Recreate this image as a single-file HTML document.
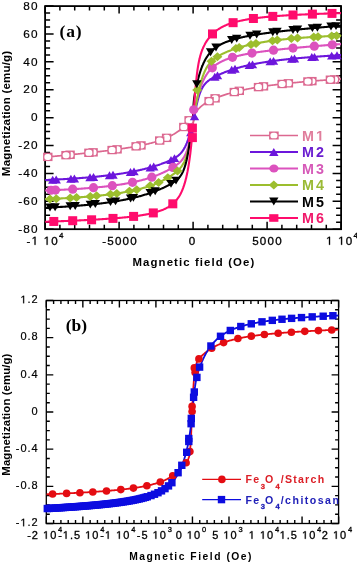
<!DOCTYPE html><html><head><meta charset="utf-8"><style>html,body{margin:0;padding:0;background:#fff;}svg{display:block;will-change:transform;}text{font-family:"Liberation Sans",sans-serif;}</style></head><body>
<svg width="357" height="563" viewBox="0 0 357 563">
<rect width="357" height="563" fill="#fff"/>
<rect x="45.1" y="6.1" width="296" height="223.1" fill="none" stroke="#000" stroke-width="1.8"/>
<path d="M45.1 229.2h8.5M341.1 229.2h-8.5M45.1 222.23h5M341.1 222.23h-5M45.1 215.26h5M341.1 215.26h-5M45.1 208.28h5M341.1 208.28h-5M45.1 201.31h8.5M341.1 201.31h-8.5M45.1 194.34h5M341.1 194.34h-5M45.1 187.37h5M341.1 187.37h-5M45.1 180.4h5M341.1 180.4h-5M45.1 173.42h8.5M341.1 173.42h-8.5M45.1 166.45h5M341.1 166.45h-5M45.1 159.48h5M341.1 159.48h-5M45.1 152.51h5M341.1 152.51h-5M45.1 145.54h8.5M341.1 145.54h-8.5M45.1 138.57h5M341.1 138.57h-5M45.1 131.59h5M341.1 131.59h-5M45.1 124.62h5M341.1 124.62h-5M45.1 117.65h8.5M341.1 117.65h-8.5M45.1 110.68h5M341.1 110.68h-5M45.1 103.71h5M341.1 103.71h-5M45.1 96.73h5M341.1 96.73h-5M45.1 89.76h8.5M341.1 89.76h-8.5M45.1 82.79h5M341.1 82.79h-5M45.1 75.82h5M341.1 75.82h-5M45.1 68.85h5M341.1 68.85h-5M45.1 61.87h8.5M341.1 61.87h-8.5M45.1 54.9h5M341.1 54.9h-5M45.1 47.93h5M341.1 47.93h-5M45.1 40.96h5M341.1 40.96h-5M45.1 33.99h8.5M341.1 33.99h-8.5M45.1 27.02h5M341.1 27.02h-5M45.1 20.04h5M341.1 20.04h-5M45.1 13.07h5M341.1 13.07h-5M45.1 6.1h8.5M341.1 6.1h-8.5M45.1 229.2v-7.5M45.1 6.1v7.5M59.9 229.2v-4.5M59.9 6.1v4.5M74.7 229.2v-4.5M74.7 6.1v4.5M89.5 229.2v-4.5M89.5 6.1v4.5M104.3 229.2v-4.5M104.3 6.1v4.5M119.1 229.2v-7.5M119.1 6.1v7.5M133.9 229.2v-4.5M133.9 6.1v4.5M148.7 229.2v-4.5M148.7 6.1v4.5M163.5 229.2v-4.5M163.5 6.1v4.5M178.3 229.2v-4.5M178.3 6.1v4.5M193.1 229.2v-7.5M193.1 6.1v7.5M207.9 229.2v-4.5M207.9 6.1v4.5M222.7 229.2v-4.5M222.7 6.1v4.5M237.5 229.2v-4.5M237.5 6.1v4.5M252.3 229.2v-4.5M252.3 6.1v4.5M267.1 229.2v-7.5M267.1 6.1v7.5M281.9 229.2v-4.5M281.9 6.1v4.5M296.7 229.2v-4.5M296.7 6.1v4.5M311.5 229.2v-4.5M311.5 6.1v4.5M326.3 229.2v-4.5M326.3 6.1v4.5M341.1 229.2v-7.5M341.1 6.1v7.5" stroke="#000" stroke-width="1.5" fill="none"/>
<defs><clipPath id="ca"><rect x="45.1" y="6.1" width="296.0" height="223.1"/></clipPath><clipPath id="cb"><rect x="46.3" y="300.5" width="292.3" height="223"/></clipPath></defs>
<g clip-path="url(#ca)" fill="none" stroke-width="2.1" stroke-linejoin="round">
<polyline points="45.1,157.14 45.84,157.07 46.58,157 47.33,156.93 48.07,156.86 48.81,156.8 49.55,156.73 50.29,156.66 51.03,156.59 51.78,156.52 52.52,156.45 53.26,156.38 54,156.31 54.74,156.24 55.49,156.17 56.23,156.1 56.97,156.03 57.71,155.96 58.45,155.89 59.2,155.82 59.94,155.75 60.68,155.68 61.42,155.6 62.16,155.53 62.9,155.46 63.65,155.39 64.39,155.32 65.13,155.24 65.87,155.17 66.61,155.1 67.36,155.03 68.1,154.95 68.84,154.88 69.58,154.81 70.32,154.73 71.06,154.66 71.81,154.58 72.55,154.51 73.29,154.43 74.03,154.36 74.77,154.28 75.52,154.21 76.26,154.13 77,154.06 77.74,153.98 78.48,153.9 79.23,153.83 79.97,153.75 80.71,153.67 81.45,153.6 82.19,153.52 82.93,153.44 83.68,153.36 84.42,153.28 85.16,153.2 85.9,153.12 86.64,153.04 87.39,152.96 88.13,152.88 88.87,152.8 89.61,152.72 90.35,152.64 91.09,152.56 91.84,152.47 92.58,152.39 93.32,152.31 94.06,152.22 94.8,152.14 95.55,152.06 96.29,151.97 97.03,151.89 97.77,151.8 98.51,151.71 99.26,151.63 100,151.54 100.74,151.45 101.48,151.36 102.22,151.27 102.96,151.19 103.71,151.1 104.45,151.01 105.19,150.91 105.93,150.82 106.67,150.73 107.42,150.64 108.16,150.54 108.9,150.45 109.64,150.36 110.38,150.26 111.13,150.16 111.87,150.07 112.61,149.97 113.35,149.87 114.09,149.77 114.83,149.67 115.58,149.57 116.32,149.47 117.06,149.37 117.8,149.26 118.54,149.16 119.29,149.06 120.03,148.95 120.77,148.84 121.51,148.73 122.25,148.63 122.99,148.52 123.74,148.4 124.48,148.29 125.22,148.18 125.96,148.06 126.7,147.95 127.45,147.83 128.19,147.71 128.93,147.59 129.67,147.47 130.41,147.35 131.16,147.22 131.9,147.1 132.64,146.97 133.38,146.84 134.12,146.71 134.86,146.58 135.61,146.44 136.35,146.31 137.09,146.17 137.83,146.03 138.57,145.89 139.32,145.74 140.06,145.6 140.8,145.45 141.54,145.3 142.28,145.14 143.02,144.99 143.77,144.83 144.51,144.67 145.25,144.5 145.99,144.33 146.73,144.16 147.48,143.99 148.22,143.81 148.96,143.63 149.7,143.45 150.44,143.26 151.19,143.07 151.93,142.87 152.67,142.67 153.41,142.47 154.15,142.26 154.89,142.05 155.64,141.83 156.38,141.6 157.12,141.38 157.86,141.14 158.6,140.9 159.35,140.65 160.09,140.4 160.83,140.14 161.57,139.87 162.31,139.6 163.05,139.32 163.8,139.03 164.54,138.73 165.28,138.43 166.02,138.11 166.76,137.79 167.51,137.45 168.25,137.11 168.99,136.75 169.73,136.39 170.47,136.01 171.22,135.62 171.96,135.22 172.7,134.81 173.44,134.38 174.18,133.94 174.92,133.48 175.67,133.02 176.41,132.53 177.15,132.03 177.89,131.52 178.63,130.99 179.38,130.44 179.76,130.15 179.82,130.1 179.89,130.06 179.95,130.01 180.01,129.96 180.07,129.92 180.12,129.88 180.13,129.87 180.19,129.83 180.25,129.78 180.31,129.73 180.37,129.69 180.43,129.64 180.49,129.59 180.55,129.55 180.61,129.5 180.67,129.45 180.73,129.4 180.79,129.36 180.85,129.31 180.86,129.3 180.91,129.26 180.97,129.21 181.03,129.17 181.09,129.12 181.15,129.07 181.21,129.02 181.27,128.97 181.33,128.93 181.39,128.88 181.45,128.83 181.51,128.78 181.57,128.73 181.6,128.71 181.63,128.68 181.69,128.63 181.75,128.58 181.81,128.54 181.87,128.49 181.93,128.44 181.99,128.39 182.05,128.34 182.11,128.29 182.17,128.24 182.23,128.19 182.29,128.14 182.34,128.1 182.35,128.09 182.41,128.04 182.47,127.99 182.53,127.94 182.59,127.89 182.65,127.84 182.71,127.79 182.77,127.74 182.83,127.68 182.89,127.63 182.95,127.58 183.01,127.53 183.07,127.48 183.08,127.47 183.13,127.43 183.19,127.38 183.25,127.33 183.31,127.27 183.37,127.22 183.43,127.17 183.49,127.12 183.55,127.07 183.61,127.01 183.67,126.96 183.73,126.91 183.79,126.86 183.83,126.83 183.86,126.8 183.92,126.75 183.98,126.7 184.04,126.65 184.1,126.59 184.16,126.54 184.22,126.49 184.28,126.43 184.34,126.38 184.4,126.33 184.46,126.27 184.52,126.22 184.57,126.17 184.58,126.17 184.64,126.11 184.7,126.06 184.76,126.01 184.82,125.95 184.88,125.9 184.94,125.84 185,125.79 185.06,125.73 185.12,125.68 185.18,125.63 185.24,125.57 185.3,125.52 185.31,125.51 185.36,125.46 185.42,125.41 185.48,125.35 185.54,125.3 185.6,125.24 185.66,125.19 185.72,125.13 185.78,125.08 185.84,125.02 185.9,124.97 185.96,124.91 186.02,124.85 186.05,124.82 186.08,124.8 186.14,124.74 186.2,124.69 186.26,124.63 186.32,124.57 186.38,124.52 186.44,124.46 186.5,124.41 186.56,124.35 186.62,124.29 186.68,124.24 186.74,124.18 186.79,124.13 186.8,124.12 186.86,124.07 186.92,124.01 186.98,123.95 187.04,123.9 187.1,123.84 187.16,123.78 187.22,123.73 187.28,123.67 187.34,123.61 187.4,123.55 187.46,123.5 187.52,123.44 187.54,123.43 187.58,123.38 187.64,123.32 187.7,123.27 187.76,123.21 187.82,123.15 187.89,123.09 187.95,123.03 188.01,122.98 188.07,122.92 188.13,122.86 188.19,122.8 188.25,122.74 188.28,122.71 188.31,122.69 188.37,122.63 188.43,122.57 188.49,122.51 188.55,122.45 188.61,122.39 188.67,122.34 188.73,122.28 188.79,122.22 188.85,122.16 188.91,122.1 188.97,122.04 189.02,121.99 189.03,121.98 189.09,121.93 189.15,121.87 189.21,121.81 189.27,121.75 189.33,121.69 189.39,121.63 189.45,121.57 189.51,121.51 189.57,121.45 189.63,121.4 189.69,121.34 189.75,121.28 189.76,121.27 189.81,121.22 189.87,121.16 189.93,121.1 189.99,121.04 190.05,120.98 190.11,120.92 190.17,120.86 190.23,120.8 190.29,120.74 190.35,120.68 190.41,120.62 190.47,120.56 190.5,120.53 190.53,120.5 190.59,120.45 190.65,120.39 190.71,120.33 190.77,120.27 190.83,120.21 190.89,120.15 190.95,120.09 191.01,120.03 191.07,119.97 191.13,119.9 191.19,119.84 191.25,119.78 191.25,119.77 191.31,119.7 191.37,119.61 191.43,119.51 191.49,119.37 191.55,119.17 191.61,118.89 191.67,118.52 191.73,118.05 191.79,117.76 191.86,117.67 191.92,117.58 191.98,117.49 191.99,117.48 192.04,117.41 192.1,117.32 192.16,117.23 192.22,117.14 192.28,117.05 192.34,116.97 192.4,116.88 192.46,116.79 192.52,116.7 192.58,116.62 192.64,116.53 192.7,116.44 192.73,116.39 192.76,116.35 192.82,116.27 192.88,116.18 192.94,116.09 193,116 193.06,115.92 193.12,115.83 193.18,115.74 193.24,115.66 193.3,115.57 193.36,115.48 193.42,115.4 193.47,115.32 193.48,115.31 193.54,115.23 193.6,115.14 193.66,115.05 193.72,114.97 193.78,114.88 193.84,114.8 193.9,114.71 193.96,114.63 194.02,114.54 194.08,114.46 194.14,114.37 194.2,114.29 194.21,114.27 194.26,114.21 194.32,114.12 194.38,114.04 194.44,113.96 194.5,113.87 194.56,113.79 194.62,113.71 194.68,113.63 194.74,113.54 194.8,113.46 194.86,113.38 194.92,113.3 194.95,113.25 194.98,113.22 195.04,113.14 195.1,113.05 195.16,112.97 195.22,112.89 195.28,112.81 195.34,112.73 195.4,112.65 195.46,112.57 195.52,112.5 195.58,112.42 195.64,112.34 195.7,112.27 195.7,112.26 195.76,112.18 195.82,112.1 195.89,112.03 195.95,111.95 196.01,111.87 196.07,111.8 196.13,111.72 196.19,111.64 196.25,111.57 196.31,111.49 196.37,111.42 196.43,111.34 196.44,111.33 196.49,111.27 196.55,111.19 196.61,111.12 196.67,111.05 196.73,110.97 196.79,110.9 196.85,110.83 196.91,110.75 196.97,110.68 197.03,110.61 197.09,110.54 197.15,110.47 197.18,110.43 197.21,110.4 197.27,110.33 197.33,110.26 197.39,110.19 197.45,110.12 197.51,110.05 197.57,109.98 197.63,109.91 197.69,109.84 197.75,109.77 197.81,109.7 197.87,109.64 197.92,109.58 197.93,109.57 197.99,109.5 198.05,109.43 198.11,109.37 198.17,109.3 198.23,109.24 198.29,109.17 198.35,109.11 198.41,109.04 198.47,108.98 198.53,108.91 198.59,108.85 198.65,108.78 198.66,108.77 198.71,108.72 198.77,108.66 198.83,108.59 198.89,108.53 198.95,108.47 199.01,108.41 199.07,108.35 199.13,108.28 199.19,108.22 199.25,108.16 199.31,108.1 199.37,108.04 199.41,108.01 199.43,107.98 199.49,107.92 199.55,107.86 199.61,107.8 199.67,107.75 199.73,107.69 199.79,107.63 199.86,107.57 199.92,107.51 199.98,107.46 200.04,107.4 200.1,107.34 200.15,107.29 200.16,107.29 200.22,107.23 200.28,107.17 200.34,107.12 200.4,107.06 200.46,107.01 200.52,106.95 200.58,106.9 200.64,106.84 200.7,106.79 200.76,106.74 200.82,106.68 200.88,106.63 200.89,106.62 200.94,106.58 201,106.52 201.06,106.47 201.12,106.42 201.18,106.37 201.24,106.32 201.3,106.26 201.36,106.21 201.42,106.16 201.48,106.11 201.54,106.06 201.6,106.01 201.63,105.98 201.66,105.96 201.72,105.91 201.78,105.86 201.84,105.81 201.9,105.76 201.96,105.71 202.02,105.66 202.08,105.62 202.14,105.57 202.2,105.52 202.26,105.47 202.32,105.43 202.37,105.38 202.38,105.38 202.44,105.33 202.5,105.28 202.56,105.24 202.62,105.19 202.68,105.14 202.74,105.1 202.8,105.05 202.86,105.01 202.92,104.96 202.98,104.92 203.04,104.87 203.1,104.83 203.12,104.82 203.16,104.78 203.22,104.74 203.28,104.69 203.34,104.65 203.4,104.61 203.46,104.56 203.52,104.52 203.58,104.48 203.64,104.43 203.7,104.39 203.76,104.35 203.86,104.28 204.6,103.77 205.34,103.29 206.08,102.83 206.82,102.38 207.57,101.96 208.31,101.55 209.05,101.16 209.79,100.78 210.53,100.41 211.28,100.05 212.02,99.7 212.76,99.36 213.5,99.04 214.24,98.71 214.98,98.4 215.73,98.09 216.47,97.79 217.21,97.5 217.95,97.21 218.69,96.93 219.44,96.65 220.18,96.38 220.92,96.11 221.66,95.85 222.4,95.59 223.15,95.34 223.89,95.09 224.63,94.85 225.37,94.61 226.11,94.38 226.85,94.15 227.6,93.92 228.34,93.7 229.08,93.48 229.82,93.27 230.56,93.06 231.31,92.85 232.05,92.64 232.79,92.44 233.53,92.25 234.27,92.05 235.01,91.86 235.76,91.67 236.5,91.49 237.24,91.31 237.98,91.13 238.72,90.95 239.47,90.78 240.21,90.61 240.95,90.44 241.69,90.28 242.43,90.11 243.18,89.95 243.92,89.8 244.66,89.64 245.4,89.49 246.14,89.34 246.88,89.19 247.63,89.04 248.37,88.9 249.11,88.76 249.85,88.62 250.59,88.48 251.34,88.34 252.08,88.21 252.82,88.08 253.56,87.95 254.3,87.82 255.04,87.69 255.79,87.56 256.53,87.44 257.27,87.32 258.01,87.2 258.75,87.08 259.5,86.96 260.24,86.85 260.98,86.73 261.72,86.62 262.46,86.51 263.21,86.4 263.95,86.29 264.69,86.18 265.43,86.07 266.17,85.97 266.91,85.87 267.66,85.76 268.4,85.66 269.14,85.56 269.88,85.46 270.62,85.36 271.37,85.27 272.11,85.17 272.85,85.08 273.59,84.98 274.33,84.89 275.07,84.8 275.82,84.71 276.56,84.62 277.3,84.53 278.04,84.44 278.78,84.35 279.53,84.26 280.27,84.18 281.01,84.09 281.75,84.01 282.49,83.93 283.24,83.84 283.98,83.76 284.72,83.68 285.46,83.6 286.2,83.52 286.94,83.44 287.69,83.36 288.43,83.29 289.17,83.21 289.91,83.13 290.65,83.06 291.4,82.98 292.14,82.91 292.88,82.84 293.62,82.76 294.36,82.69 295.11,82.62 295.85,82.55 296.59,82.48 297.33,82.41 298.07,82.34 298.81,82.27 299.56,82.2 300.3,82.13 301.04,82.06 301.78,82 302.52,81.93 303.27,81.86 304.01,81.8 304.75,81.73 305.49,81.67 306.23,81.6 306.97,81.54 307.72,81.48 308.46,81.41 309.2,81.35 309.94,81.29 310.68,81.23 311.43,81.16 312.17,81.1 312.91,81.04 313.65,80.98 314.39,80.92 315.14,80.86 315.88,80.8 316.62,80.74 317.36,80.69 318.1,80.63 318.84,80.57 319.59,80.51 320.33,80.46 321.07,80.4 321.81,80.34 322.55,80.29 323.3,80.23 324.04,80.17 324.78,80.12 325.52,80.06 326.26,80.01 327,79.95 327.75,79.9 328.49,79.85 329.23,79.79 329.97,79.74 330.71,79.69 331.46,79.63 332.2,79.58 332.94,79.53 333.68,79.48 334.42,79.42 335.17,79.37 335.91,79.32 336.65,79.27 337.39,79.22 338.13,79.17 338.87,79.12 339.62,79.07 340.36,79.02 341.1,78.97" stroke="#dc6890" stroke-width="1.7"/>
<polyline points="45.1,180.06 45.84,180.03 46.58,179.99 47.33,179.96 48.07,179.93 48.81,179.89 49.55,179.86 50.29,179.83 51.03,179.79 51.78,179.76 52.52,179.72 53.26,179.69 54,179.65 54.74,179.61 55.49,179.58 56.23,179.54 56.97,179.5 57.71,179.46 58.45,179.42 59.2,179.38 59.94,179.35 60.68,179.31 61.42,179.26 62.16,179.22 62.9,179.18 63.65,179.14 64.39,179.1 65.13,179.06 65.87,179.01 66.61,178.97 67.36,178.92 68.1,178.88 68.84,178.83 69.58,178.79 70.32,178.74 71.06,178.69 71.81,178.65 72.55,178.6 73.29,178.55 74.03,178.5 74.77,178.45 75.52,178.4 76.26,178.35 77,178.3 77.74,178.24 78.48,178.19 79.23,178.14 79.97,178.08 80.71,178.03 81.45,177.97 82.19,177.91 82.93,177.86 83.68,177.8 84.42,177.74 85.16,177.68 85.9,177.62 86.64,177.56 87.39,177.5 88.13,177.43 88.87,177.37 89.61,177.31 90.35,177.24 91.09,177.18 91.84,177.11 92.58,177.04 93.32,176.97 94.06,176.9 94.8,176.83 95.55,176.76 96.29,176.69 97.03,176.62 97.77,176.54 98.51,176.47 99.26,176.39 100,176.32 100.74,176.24 101.48,176.16 102.22,176.08 102.96,176 103.71,175.91 104.45,175.83 105.19,175.75 105.93,175.66 106.67,175.57 107.42,175.49 108.16,175.4 108.9,175.31 109.64,175.21 110.38,175.12 111.13,175.03 111.87,174.93 112.61,174.83 113.35,174.73 114.09,174.63 114.83,174.53 115.58,174.43 116.32,174.33 117.06,174.22 117.8,174.11 118.54,174 119.29,173.89 120.03,173.78 120.77,173.67 121.51,173.55 122.25,173.43 122.99,173.32 123.74,173.19 124.48,173.07 125.22,172.95 125.96,172.82 126.7,172.69 127.45,172.56 128.19,172.43 128.93,172.3 129.67,172.16 130.41,172.03 131.16,171.89 131.9,171.74 132.64,171.6 133.38,171.45 134.12,171.3 134.86,171.15 135.61,171 136.35,170.84 137.09,170.69 137.83,170.53 138.57,170.36 139.32,170.2 140.06,170.03 140.8,169.86 141.54,169.69 142.28,169.51 143.02,169.33 143.77,169.15 144.51,168.97 145.25,168.78 145.99,168.59 146.73,168.4 147.48,168.21 148.22,168.01 148.96,167.81 149.7,167.6 150.44,167.39 151.19,167.18 151.93,166.97 152.67,166.75 153.41,166.53 154.15,166.31 154.89,166.08 155.64,165.85 156.38,165.61 157.12,165.38 157.86,165.13 158.6,164.89 159.35,164.64 160.09,164.38 160.83,164.13 161.57,163.86 162.31,163.6 163.05,163.33 163.8,163.05 164.54,162.77 165.28,162.48 166.02,162.19 166.76,161.89 167.51,161.58 168.25,161.26 168.99,160.94 169.73,160.61 170.47,160.27 171.22,159.91 171.96,159.55 172.7,159.17 173.44,158.77 174.18,158.35 174.92,157.92 175.67,157.45 176.41,156.96 177.15,156.44 177.89,155.87 178.63,155.26 179.38,154.61 180.12,153.89 180.86,153.1 181.6,152.24 181.94,151.81 182,151.74 182.06,151.66 182.12,151.58 182.18,151.5 182.24,151.42 182.3,151.34 182.34,151.28 182.36,151.26 182.42,151.18 182.48,151.1 182.54,151.01 182.6,150.93 182.66,150.84 182.72,150.76 182.78,150.67 182.84,150.59 182.9,150.5 182.96,150.41 183.02,150.32 183.08,150.23 183.08,150.23 183.14,150.14 183.2,150.05 183.26,149.96 183.32,149.87 183.38,149.78 183.44,149.68 183.5,149.59 183.56,149.49 183.62,149.39 183.68,149.3 183.74,149.2 183.8,149.1 183.83,149.06 183.86,149 183.92,148.9 183.99,148.8 184.05,148.7 184.11,148.59 184.17,148.49 184.23,148.38 184.29,148.28 184.35,148.17 184.41,148.06 184.47,147.96 184.53,147.85 184.57,147.77 184.59,147.74 184.65,147.63 184.71,147.51 184.77,147.4 184.83,147.29 184.89,147.17 184.95,147.06 185.01,146.94 185.07,146.82 185.13,146.7 185.19,146.58 185.25,146.46 185.31,146.34 185.31,146.34 185.37,146.22 185.43,146.09 185.49,145.97 185.55,145.84 185.61,145.72 185.67,145.59 185.73,145.46 185.79,145.33 185.85,145.2 185.91,145.07 185.97,144.93 186.03,144.8 186.05,144.75 186.09,144.66 186.15,144.53 186.21,144.39 186.27,144.25 186.33,144.11 186.39,143.97 186.45,143.83 186.51,143.68 186.57,143.54 186.63,143.39 186.69,143.25 186.75,143.1 186.79,142.99 186.81,142.95 186.87,142.8 186.93,142.65 186.99,142.5 187.05,142.34 187.11,142.19 187.17,142.03 187.23,141.88 187.29,141.72 187.35,141.56 187.41,141.4 187.47,141.24 187.53,141.07 187.54,141.07 187.59,140.91 187.65,140.74 187.71,140.58 187.77,140.41 187.83,140.24 187.89,140.07 187.96,139.9 188.02,139.73 188.08,139.55 188.14,139.38 188.2,139.2 188.26,139.02 188.28,138.96 188.32,138.84 188.38,138.66 188.44,138.48 188.5,138.3 188.56,138.12 188.62,137.93 188.68,137.75 188.74,137.56 188.8,137.37 188.86,137.18 188.92,136.99 188.98,136.8 189.02,136.66 189.04,136.61 189.1,136.41 189.16,136.22 189.22,136.02 189.28,135.82 189.34,135.62 189.4,135.42 189.46,135.22 189.52,135.02 189.58,134.82 189.64,134.61 189.7,134.4 189.76,134.2 189.76,134.19 189.82,133.99 189.88,133.78 189.94,133.57 190,133.36 190.06,133.15 190.12,132.93 190.18,132.72 190.24,132.5 190.3,132.28 190.36,132.07 190.42,131.85 190.48,131.63 190.5,131.55 190.54,131.41 190.6,131.18 190.66,130.96 190.72,130.74 190.78,130.51 190.84,130.28 190.9,130.06 190.96,129.83 191.02,129.6 191.08,129.37 191.14,129.14 191.2,128.91 191.25,128.75 191.26,128.68 191.32,128.44 191.38,128.21 191.44,127.97 191.5,127.74 191.56,127.5 191.62,127.26 191.68,127.03 191.74,126.79 191.8,126.55 191.86,126.31 191.92,126.07 191.99,125.82 191.99,125.81 192.05,125.58 192.11,125.34 192.17,125.09 192.23,124.85 192.29,124.6 192.35,124.36 192.41,124.11 192.47,123.87 192.53,123.62 192.59,123.37 192.65,123.12 192.71,122.87 192.73,122.78 192.77,122.63 192.83,122.38 192.89,122.13 192.95,121.88 193.01,121.63 193.07,121.37 193.13,121.12 193.19,120.87 193.25,120.62 193.31,120.37 193.37,120.12 193.43,119.86 193.47,119.69 193.49,119.61 193.55,119.36 193.61,119.11 193.67,118.85 193.73,118.6 193.79,118.35 193.85,118.09 193.91,117.84 193.97,117.56 194.03,117.26 194.09,116.96 194.15,116.66 194.21,116.36 194.21,116.35 194.27,116.06 194.33,115.76 194.39,115.46 194.45,115.16 194.51,114.86 194.57,114.57 194.63,114.27 194.69,113.97 194.75,113.67 194.81,113.38 194.87,113.08 194.93,112.79 194.95,112.68 194.99,112.49 195.05,112.2 195.11,111.91 195.17,111.62 195.23,111.32 195.29,111.03 195.35,110.75 195.41,110.46 195.47,110.17 195.53,109.88 195.59,109.6 195.65,109.31 195.7,109.12 195.71,109.03 195.77,108.75 195.83,108.47 195.89,108.19 195.96,107.91 196.02,107.64 196.08,107.36 196.14,107.09 196.2,106.81 196.26,106.54 196.32,106.27 196.38,106 196.44,105.74 196.44,105.73 196.5,105.47 196.56,105.21 196.62,104.94 196.68,104.68 196.74,104.42 196.8,104.17 196.86,103.91 196.92,103.66 196.98,103.4 197.04,103.15 197.1,102.9 197.16,102.65 197.18,102.56 197.22,102.41 197.28,102.16 197.34,101.92 197.4,101.68 197.46,101.44 197.52,101.2 197.58,100.97 197.64,100.74 197.7,100.5 197.76,100.27 197.82,100.04 197.88,99.82 197.92,99.66 197.94,99.59 198,99.37 198.06,99.15 198.12,98.93 198.18,98.71 198.24,98.5 198.3,98.29 198.36,98.07 198.42,97.86 198.48,97.66 198.54,97.45 198.6,97.25 198.66,97.04 198.66,97.04 198.72,96.84 198.78,96.64 198.84,96.45 198.9,96.25 198.96,96.06 199.02,95.87 199.08,95.68 199.14,95.49 199.2,95.3 199.26,95.12 199.32,94.94 199.38,94.75 199.41,94.69 199.44,94.58 199.5,94.4 199.56,94.22 199.62,94.05 199.68,93.88 199.74,93.71 199.8,93.54 199.86,93.37 199.92,93.21 199.99,93.04 200.05,92.88 200.11,92.72 200.15,92.61 200.17,92.56 200.23,92.4 200.29,92.25 200.35,92.09 200.41,91.94 200.47,91.79 200.53,91.64 200.59,91.49 200.65,91.35 200.71,91.2 200.77,91.06 200.83,90.92 200.89,90.78 200.89,90.78 200.95,90.64 201.01,90.5 201.07,90.37 201.13,90.23 201.19,90.1 201.25,89.97 201.31,89.84 201.37,89.71 201.43,89.58 201.49,89.46 201.55,89.33 201.61,89.21 201.63,89.17 201.67,89.09 201.73,88.97 201.79,88.85 201.85,88.73 201.91,88.61 201.97,88.5 202.03,88.38 202.09,88.27 202.15,88.16 202.21,88.05 202.27,87.94 202.33,87.83 202.37,87.75 202.39,87.72 202.45,87.61 202.51,87.51 202.57,87.41 202.63,87.3 202.69,87.2 202.75,87.1 202.81,87 202.87,86.9 202.93,86.8 202.99,86.71 203.05,86.61 203.11,86.51 203.12,86.51 203.17,86.42 203.23,86.33 203.29,86.23 203.35,86.14 203.41,86.05 203.47,85.96 203.53,85.88 203.59,85.79 203.65,85.7 203.71,85.61 203.77,85.53 203.83,85.45 203.86,85.41 203.89,85.36 203.96,85.28 204.02,85.2 204.08,85.12 204.14,85.04 204.2,84.96 204.26,84.88 204.32,84.8 204.38,84.72 204.44,84.65 204.5,84.57 204.56,84.49 204.6,84.44 204.62,84.42 204.68,84.35 204.74,84.27 204.8,84.2 204.86,84.13 204.92,84.06 204.98,83.99 205.04,83.92 205.1,83.85 205.16,83.78 205.22,83.71 205.28,83.64 205.34,83.58 205.34,83.57 205.4,83.51 205.46,83.44 205.52,83.38 205.58,83.31 205.64,83.25 205.7,83.18 205.76,83.12 205.82,83.06 205.88,83 205.94,82.93 206.08,82.79 206.82,82.08 207.57,81.43 208.31,80.83 209.05,80.27 209.79,79.74 210.53,79.24 211.28,78.77 212.02,78.32 212.76,77.89 213.5,77.47 214.24,77.06 214.98,76.67 215.73,76.29 216.47,75.92 217.21,75.55 217.95,75.2 218.69,74.85 219.44,74.51 220.18,74.18 220.92,73.86 221.66,73.54 222.4,73.22 223.15,72.92 223.89,72.62 224.63,72.32 225.37,72.03 226.11,71.75 226.85,71.47 227.6,71.2 228.34,70.93 229.08,70.66 229.82,70.41 230.56,70.15 231.31,69.9 232.05,69.66 232.79,69.42 233.53,69.18 234.27,68.95 235.01,68.72 235.76,68.5 236.5,68.28 237.24,68.07 237.98,67.85 238.72,67.65 239.47,67.44 240.21,67.24 240.95,67.05 241.69,66.85 242.43,66.66 243.18,66.48 243.92,66.29 244.66,66.11 245.4,65.93 246.14,65.76 246.88,65.59 247.63,65.42 248.37,65.26 249.11,65.09 249.85,64.93 250.59,64.77 251.34,64.62 252.08,64.47 252.82,64.32 253.56,64.17 254.3,64.02 255.04,63.88 255.79,63.74 256.53,63.6 257.27,63.47 258.01,63.33 258.75,63.2 259.5,63.07 260.24,62.94 260.98,62.81 261.72,62.69 262.46,62.57 263.21,62.44 263.95,62.32 264.69,62.21 265.43,62.09 266.17,61.98 266.91,61.86 267.66,61.75 268.4,61.64 269.14,61.53 269.88,61.43 270.62,61.32 271.37,61.22 272.11,61.12 272.85,61.01 273.59,60.91 274.33,60.82 275.07,60.72 275.82,60.62 276.56,60.53 277.3,60.43 278.04,60.34 278.78,60.25 279.53,60.16 280.27,60.07 281.01,59.98 281.75,59.89 282.49,59.81 283.24,59.72 283.98,59.64 284.72,59.56 285.46,59.47 286.2,59.39 286.94,59.31 287.69,59.23 288.43,59.15 289.17,59.08 289.91,59 290.65,58.92 291.4,58.85 292.14,58.77 292.88,58.7 293.62,58.63 294.36,58.55 295.11,58.48 295.85,58.41 296.59,58.34 297.33,58.27 298.07,58.2 298.81,58.13 299.56,58.07 300.3,58 301.04,57.93 301.78,57.87 302.52,57.8 303.27,57.74 304.01,57.68 304.75,57.61 305.49,57.55 306.23,57.49 306.97,57.43 307.72,57.37 308.46,57.31 309.2,57.25 309.94,57.19 310.68,57.13 311.43,57.07 312.17,57.01 312.91,56.96 313.65,56.9 314.39,56.84 315.14,56.79 315.88,56.73 316.62,56.68 317.36,56.62 318.1,56.57 318.84,56.51 319.59,56.46 320.33,56.41 321.07,56.36 321.81,56.3 322.55,56.25 323.3,56.2 324.04,56.15 324.78,56.1 325.52,56.05 326.26,56 327,55.95 327.75,55.9 328.49,55.85 329.23,55.8 329.97,55.76 330.71,55.71 331.46,55.66 332.2,55.61 332.94,55.57 333.68,55.52 334.42,55.47 335.17,55.43 335.91,55.38 336.65,55.34 337.39,55.29 338.13,55.25 338.87,55.2 339.62,55.16 340.36,55.12 341.1,55.07" stroke="#6c16dc"/>
<polyline points="45.1,190.49 45.84,190.47 46.58,190.44 47.33,190.41 48.07,190.38 48.81,190.35 49.55,190.32 50.29,190.29 51.03,190.26 51.78,190.23 52.52,190.2 53.26,190.17 54,190.14 54.74,190.11 55.49,190.07 56.23,190.04 56.97,190.01 57.71,189.97 58.45,189.94 59.2,189.91 59.94,189.87 60.68,189.84 61.42,189.8 62.16,189.76 62.9,189.73 63.65,189.69 64.39,189.65 65.13,189.61 65.87,189.57 66.61,189.53 67.36,189.5 68.1,189.45 68.84,189.41 69.58,189.37 70.32,189.33 71.06,189.29 71.81,189.24 72.55,189.2 73.29,189.16 74.03,189.11 74.77,189.07 75.52,189.02 76.26,188.97 77,188.93 77.74,188.88 78.48,188.83 79.23,188.78 79.97,188.73 80.71,188.68 81.45,188.63 82.19,188.58 82.93,188.52 83.68,188.47 84.42,188.42 85.16,188.36 85.9,188.3 86.64,188.25 87.39,188.19 88.13,188.13 88.87,188.07 89.61,188.01 90.35,187.95 91.09,187.89 91.84,187.83 92.58,187.76 93.32,187.7 94.06,187.63 94.8,187.57 95.55,187.5 96.29,187.43 97.03,187.36 97.77,187.29 98.51,187.22 99.26,187.15 100,187.07 100.74,187 101.48,186.92 102.22,186.85 102.96,186.77 103.71,186.69 104.45,186.61 105.19,186.53 105.93,186.44 106.67,186.36 107.42,186.27 108.16,186.18 108.9,186.09 109.64,186 110.38,185.91 111.13,185.82 111.87,185.72 112.61,185.63 113.35,185.53 114.09,185.43 114.83,185.33 115.58,185.23 116.32,185.12 117.06,185.02 117.8,184.91 118.54,184.8 119.29,184.69 120.03,184.57 120.77,184.46 121.51,184.34 122.25,184.22 122.99,184.1 123.74,183.97 124.48,183.85 125.22,183.72 125.96,183.59 126.7,183.46 127.45,183.32 128.19,183.18 128.93,183.04 129.67,182.9 130.41,182.76 131.16,182.61 131.9,182.46 132.64,182.3 133.38,182.15 134.12,181.99 134.86,181.83 135.61,181.66 136.35,181.49 137.09,181.32 137.83,181.14 138.57,180.97 139.32,180.79 140.06,180.6 140.8,180.41 141.54,180.22 142.28,180.02 143.02,179.82 143.77,179.62 144.51,179.41 145.25,179.2 145.99,178.98 146.73,178.76 147.48,178.54 148.22,178.31 148.96,178.08 149.7,177.84 150.44,177.59 151.19,177.35 151.93,177.09 152.67,176.83 153.41,176.57 154.15,176.3 154.89,176.03 155.64,175.75 156.38,175.46 157.12,175.17 157.86,174.88 158.6,174.57 159.35,174.27 160.09,173.95 160.83,173.63 161.57,173.3 162.31,172.97 163.05,172.63 163.8,172.28 164.54,171.93 165.28,171.56 166.02,171.19 166.76,170.82 167.51,170.44 168.25,170.04 168.99,169.64 169.73,169.24 170.47,168.82 171.22,168.39 171.96,167.96 172.7,167.51 173.44,167.05 174.18,166.58 174.92,166.09 175.67,165.59 176.41,165.07 177.15,164.52 177.89,163.95 178.63,163.35 179.38,162.71 180.12,162.02 180.86,161.28 181.45,160.63 181.51,160.56 181.57,160.49 181.6,160.46 181.63,160.43 181.69,160.36 181.75,160.29 181.82,160.21 181.88,160.14 181.94,160.07 182,160 182.06,159.92 182.12,159.85 182.18,159.78 182.24,159.7 182.3,159.62 182.34,159.57 182.36,159.55 182.42,159.47 182.48,159.39 182.54,159.31 182.6,159.23 182.66,159.15 182.72,159.07 182.78,158.99 182.84,158.91 182.9,158.83 182.96,158.74 183.02,158.66 183.08,158.57 183.08,158.56 183.14,158.48 183.2,158.4 183.26,158.31 183.32,158.22 183.38,158.13 183.44,158.04 183.5,157.95 183.56,157.85 183.62,157.76 183.68,157.66 183.74,157.57 183.8,157.47 183.83,157.43 183.86,157.37 183.92,157.28 183.98,157.18 184.04,157.07 184.1,156.97 184.16,156.87 184.22,156.76 184.28,156.66 184.34,156.55 184.4,156.45 184.46,156.34 184.52,156.23 184.57,156.14 184.58,156.11 184.64,156 184.7,155.89 184.76,155.77 184.82,155.66 184.88,155.54 184.94,155.42 185,155.3 185.06,155.18 185.12,155.05 185.18,154.93 185.24,154.8 185.3,154.67 185.31,154.66 185.36,154.55 185.42,154.41 185.48,154.28 185.54,154.15 185.6,154.01 185.66,153.88 185.72,153.74 185.78,153.6 185.85,153.46 185.91,153.31 185.97,153.17 186.03,153.02 186.05,152.95 186.09,152.87 186.15,152.72 186.21,152.57 186.27,152.41 186.33,152.26 186.39,152.1 186.45,151.94 186.51,151.78 186.57,151.62 186.63,151.45 186.69,151.28 186.75,151.11 186.79,150.98 186.81,150.94 186.87,150.77 186.93,150.59 186.99,150.42 187.05,150.24 187.11,150.05 187.17,149.87 187.23,149.68 187.29,149.49 187.35,149.3 187.41,149.11 187.47,148.92 187.53,148.72 187.54,148.7 187.59,148.52 187.65,148.32 187.71,148.11 187.77,147.91 187.83,147.7 187.89,147.48 187.95,147.27 188.01,147.05 188.07,146.84 188.13,146.61 188.19,146.39 188.25,146.16 188.28,146.06 188.31,145.93 188.37,145.7 188.43,145.47 188.49,145.23 188.55,144.99 188.61,144.75 188.67,144.51 188.73,144.26 188.79,144.01 188.85,143.76 188.91,143.5 188.97,143.25 189.02,143.04 189.03,142.99 189.09,142.72 189.15,142.46 189.21,142.19 189.27,141.92 189.33,141.65 189.39,141.37 189.45,141.09 189.51,140.81 189.57,140.52 189.63,140.24 189.69,139.95 189.75,139.66 189.76,139.62 189.82,139.36 189.88,139.06 189.94,138.76 190,138.46 190.06,138.15 190.12,137.84 190.18,137.53 190.24,137.22 190.3,136.9 190.36,136.59 190.42,136.26 190.48,135.94 190.5,135.8 190.54,135.61 190.6,135.29 190.66,134.95 190.72,134.62 190.78,134.28 190.84,133.95 190.9,133.6 190.96,133.26 191.02,132.92 191.08,132.57 191.14,132.22 191.2,131.87 191.25,131.59 191.26,131.51 191.32,131.15 191.38,130.8 191.44,130.44 191.5,130.07 191.56,129.71 191.62,129.34 191.68,128.97 191.74,128.6 191.8,128.23 191.86,127.86 191.92,127.48 191.98,127.11 191.99,127.06 192.04,126.73 192.1,126.35 192.16,125.96 192.22,125.58 192.28,125.2 192.34,124.81 192.4,124.43 192.46,124.04 192.52,123.65 192.58,123.26 192.64,122.87 192.7,122.48 192.73,122.3 192.76,122.08 192.82,121.69 192.88,121.29 192.94,120.9 193,120.5 193.06,120.11 193.12,119.71 193.18,119.32 193.24,118.92 193.3,118.52 193.36,118.12 193.42,117.73 193.47,117.15 193.48,116.85 193.54,115.59 193.6,114.55 193.66,113.76 193.72,113.16 193.78,112.7 193.85,112.32 193.91,112 193.97,111.7 194.03,111.42 194.09,111.15 194.15,110.88 194.21,110.62 194.21,110.59 194.27,110.35 194.33,110.09 194.39,109.83 194.45,109.57 194.51,109.31 194.57,109.05 194.63,108.79 194.69,108.54 194.75,108.28 194.81,108.02 194.87,107.76 194.93,107.51 194.95,107.39 194.99,107.25 195.05,107 195.11,106.74 195.17,106.49 195.23,106.23 195.29,105.98 195.35,105.73 195.41,105.47 195.47,105.22 195.53,104.97 195.59,104.72 195.65,104.47 195.7,104.28 195.71,104.22 195.77,103.98 195.83,103.73 195.89,103.48 195.95,103.24 196.01,102.99 196.07,102.75 196.13,102.5 196.19,102.26 196.25,102.02 196.31,101.78 196.37,101.54 196.43,101.3 196.44,101.27 196.49,101.06 196.55,100.82 196.61,100.58 196.67,100.35 196.73,100.11 196.79,99.88 196.85,99.65 196.91,99.41 196.97,99.18 197.03,98.95 197.09,98.72 197.15,98.49 197.18,98.39 197.21,98.27 197.27,98.04 197.33,97.81 197.39,97.59 197.45,97.37 197.51,97.14 197.57,96.92 197.63,96.7 197.69,96.48 197.75,96.26 197.82,96.05 197.88,95.83 197.92,95.66 197.94,95.61 198,95.4 198.06,95.19 198.12,94.97 198.18,94.76 198.24,94.55 198.3,94.34 198.36,94.14 198.42,93.93 198.48,93.72 198.54,93.52 198.6,93.31 198.66,93.11 198.66,93.09 198.72,92.91 198.78,92.71 198.84,92.51 198.9,92.31 198.96,92.11 199.02,91.92 199.08,91.72 199.14,91.53 199.2,91.33 199.26,91.14 199.32,90.95 199.38,90.76 199.41,90.68 199.44,90.57 199.5,90.38 199.56,90.2 199.62,90.01 199.68,89.83 199.74,89.64 199.8,89.46 199.86,89.28 199.92,89.1 199.98,88.92 200.04,88.74 200.1,88.56 200.15,88.43 200.16,88.39 200.22,88.21 200.28,88.04 200.34,87.86 200.4,87.69 200.46,87.52 200.52,87.35 200.58,87.18 200.64,87.01 200.7,86.85 200.76,86.68 200.82,86.52 200.88,86.35 200.89,86.33 200.94,86.19 201,86.03 201.06,85.87 201.12,85.71 201.18,85.55 201.24,85.39 201.3,85.23 201.36,85.07 201.42,84.92 201.48,84.76 201.54,84.61 201.6,84.46 201.63,84.39 201.66,84.31 201.72,84.16 201.78,84.01 201.85,83.86 201.91,83.71 201.97,83.56 202.03,83.42 202.09,83.27 202.15,83.13 202.21,82.98 202.27,82.84 202.33,82.7 202.37,82.59 202.39,82.56 202.45,82.42 202.51,82.28 202.57,82.14 202.63,82 202.69,81.87 202.75,81.73 202.81,81.6 202.87,81.46 202.93,81.33 202.99,81.2 203.05,81.07 203.11,80.94 203.12,80.92 203.17,80.81 203.23,80.68 203.29,80.55 203.35,80.42 203.41,80.29 203.47,80.17 203.53,80.04 203.59,79.92 203.65,79.8 203.71,79.67 203.77,79.55 203.83,79.43 203.86,79.38 203.89,79.31 203.95,79.19 204.01,79.07 204.07,78.95 204.13,78.83 204.19,78.72 204.25,78.6 204.31,78.49 204.37,78.37 204.43,78.26 204.49,78.14 204.55,78.03 204.6,77.94 204.61,77.92 204.67,77.81 204.73,77.7 204.79,77.59 204.85,77.48 204.91,77.37 204.97,77.26 205.03,77.15 205.09,77.05 205.15,76.94 205.21,76.83 205.27,76.73 205.33,76.62 205.34,76.61 205.39,76.52 205.45,76.42 206.08,75.38 206.82,74.23 207.57,73.16 208.31,72.16 209.05,71.23 209.79,70.36 210.53,69.54 211.28,68.77 212.02,68.05 212.76,67.37 213.5,66.73 214.24,66.12 214.98,65.55 215.73,65 216.47,64.48 217.21,63.99 217.95,63.52 218.69,63.08 219.44,62.65 220.18,62.25 220.92,61.86 221.66,61.48 222.4,61.13 223.15,60.78 223.89,60.45 224.63,60.13 225.37,59.83 226.11,59.53 226.85,59.25 227.6,58.97 228.34,58.71 229.08,58.45 229.82,58.2 230.56,57.96 231.31,57.73 232.05,57.5 232.79,57.28 233.53,57.07 234.27,56.86 235.01,56.66 235.76,56.46 236.5,56.27 237.24,56.08 237.98,55.9 238.72,55.72 239.47,55.55 240.21,55.38 240.95,55.21 241.69,55.05 242.43,54.89 243.18,54.73 243.92,54.58 244.66,54.43 245.4,54.28 246.14,54.14 246.88,54 247.63,53.86 248.37,53.73 249.11,53.59 249.85,53.46 250.59,53.33 251.34,53.21 252.08,53.08 252.82,52.96 253.56,52.84 254.3,52.72 255.04,52.6 255.79,52.49 256.53,52.38 257.27,52.26 258.01,52.15 258.75,52.04 259.5,51.94 260.24,51.83 260.98,51.73 261.72,51.62 262.46,51.52 263.21,51.42 263.95,51.32 264.69,51.22 265.43,51.13 266.17,51.03 266.91,50.93 267.66,50.84 268.4,50.75 269.14,50.66 269.88,50.56 270.62,50.47 271.37,50.39 272.11,50.3 272.85,50.21 273.59,50.12 274.33,50.04 275.07,49.95 275.82,49.87 276.56,49.78 277.3,49.7 278.04,49.62 278.78,49.54 279.53,49.46 280.27,49.38 281.01,49.3 281.75,49.22 282.49,49.14 283.24,49.06 283.98,48.98 284.72,48.91 285.46,48.83 286.2,48.76 286.94,48.68 287.69,48.61 288.43,48.53 289.17,48.46 289.91,48.39 290.65,48.31 291.4,48.24 292.14,48.17 292.88,48.1 293.62,48.03 294.36,47.96 295.11,47.89 295.85,47.82 296.59,47.75 297.33,47.68 298.07,47.61 298.81,47.54 299.56,47.48 300.3,47.41 301.04,47.34 301.78,47.27 302.52,47.21 303.27,47.14 304.01,47.08 304.75,47.01 305.49,46.94 306.23,46.88 306.97,46.82 307.72,46.75 308.46,46.69 309.2,46.62 309.94,46.56 310.68,46.5 311.43,46.43 312.17,46.37 312.91,46.31 313.65,46.25 314.39,46.18 315.14,46.12 315.88,46.06 316.62,46 317.36,45.94 318.1,45.88 318.84,45.82 319.59,45.76 320.33,45.7 321.07,45.64 321.81,45.58 322.55,45.52 323.3,45.46 324.04,45.4 324.78,45.34 325.52,45.28 326.26,45.22 327,45.16 327.75,45.11 328.49,45.05 329.23,44.99 329.97,44.93 330.71,44.88 331.46,44.82 332.2,44.76 332.94,44.7 333.68,44.65 334.42,44.59 335.17,44.53 335.91,44.48 336.65,44.42 337.39,44.36 338.13,44.31 338.87,44.25 339.62,44.2 340.36,44.14 341.1,44.08" stroke="#dc52be"/>
<polyline points="45.1,199.15 45.84,199.12 46.58,199.09 47.33,199.06 48.07,199.02 48.81,198.99 49.55,198.96 50.29,198.93 51.03,198.89 51.78,198.86 52.52,198.83 53.26,198.79 54,198.76 54.74,198.72 55.49,198.69 56.23,198.65 56.97,198.61 57.71,198.58 58.45,198.54 59.2,198.5 59.94,198.47 60.68,198.43 61.42,198.39 62.16,198.35 62.9,198.31 63.65,198.27 64.39,198.23 65.13,198.19 65.87,198.15 66.61,198.1 67.36,198.06 68.1,198.02 68.84,197.97 69.58,197.93 70.32,197.89 71.06,197.84 71.81,197.79 72.55,197.75 73.29,197.7 74.03,197.65 74.77,197.6 75.52,197.56 76.26,197.51 77,197.46 77.74,197.41 78.48,197.35 79.23,197.3 79.97,197.25 80.71,197.2 81.45,197.14 82.19,197.09 82.93,197.03 83.68,196.98 84.42,196.92 85.16,196.86 85.9,196.8 86.64,196.74 87.39,196.68 88.13,196.62 88.87,196.56 89.61,196.5 90.35,196.44 91.09,196.37 91.84,196.31 92.58,196.24 93.32,196.17 94.06,196.1 94.8,196.04 95.55,195.97 96.29,195.9 97.03,195.82 97.77,195.75 98.51,195.68 99.26,195.6 100,195.53 100.74,195.45 101.48,195.37 102.22,195.29 102.96,195.21 103.71,195.13 104.45,195.04 105.19,194.96 105.93,194.87 106.67,194.79 107.42,194.7 108.16,194.61 108.9,194.52 109.64,194.42 110.38,194.33 111.13,194.23 111.87,194.14 112.61,194.04 113.35,193.94 114.09,193.83 114.83,193.73 115.58,193.63 116.32,193.52 117.06,193.41 117.8,193.3 118.54,193.19 119.29,193.07 120.03,192.95 120.77,192.84 121.51,192.71 122.25,192.59 122.99,192.47 123.74,192.34 124.48,192.21 125.22,192.08 125.96,191.94 126.7,191.81 127.45,191.67 128.19,191.53 128.93,191.38 129.67,191.24 130.41,191.09 131.16,190.93 131.9,190.78 132.64,190.62 133.38,190.46 134.12,190.3 134.86,190.13 135.61,189.96 136.35,189.78 137.09,189.61 137.83,189.43 138.57,189.24 139.32,189.05 140.06,188.86 140.8,188.67 141.54,188.47 142.28,188.26 143.02,188.06 143.77,187.84 144.51,187.63 145.25,187.41 145.99,187.18 146.73,186.95 147.48,186.71 148.22,186.47 148.96,186.23 149.7,185.98 150.44,185.72 151.19,185.46 151.93,185.19 152.67,184.92 153.41,184.64 154.15,184.36 154.89,184.07 155.64,183.77 156.38,183.47 157.12,183.16 157.86,182.84 158.6,182.51 159.35,182.18 160.09,181.84 160.83,181.5 161.57,181.14 162.31,180.78 163.05,180.41 163.8,180.03 164.54,179.64 165.28,179.25 166.02,178.84 166.76,178.42 167.51,178 168.25,177.56 168.99,177.12 169.73,176.66 170.47,176.19 171.22,175.71 171.96,175.21 172.7,174.7 173.44,174.17 174.18,173.63 174.92,173.06 175.67,172.47 176.41,171.86 177.15,171.21 177.89,170.53 178.63,169.81 179.38,169.03 180.12,168.2 180.86,167.3 181.6,166.31 181.81,166.02 181.87,165.93 181.93,165.84 181.99,165.75 182.05,165.67 182.11,165.58 182.17,165.49 182.23,165.39 182.29,165.3 182.34,165.23 182.35,165.21 182.41,165.12 182.47,165.02 182.53,164.93 182.59,164.83 182.65,164.74 182.71,164.64 182.77,164.54 182.83,164.44 182.89,164.34 182.95,164.24 183.01,164.14 183.08,164.03 183.08,164.02 183.14,163.93 183.2,163.83 183.26,163.72 183.32,163.61 183.38,163.51 183.44,163.4 183.5,163.29 183.56,163.18 183.62,163.06 183.68,162.95 183.74,162.84 183.8,162.72 183.83,162.66 183.86,162.6 183.92,162.49 183.98,162.37 184.04,162.25 184.1,162.13 184.16,162.01 184.22,161.88 184.28,161.76 184.34,161.63 184.4,161.5 184.46,161.38 184.52,161.25 184.57,161.14 184.58,161.11 184.64,160.98 184.7,160.85 184.76,160.71 184.82,160.58 184.88,160.44 184.94,160.3 185,160.16 185.06,160.02 185.12,159.87 185.18,159.73 185.24,159.58 185.3,159.43 185.31,159.41 185.36,159.28 185.42,159.13 185.48,158.98 185.54,158.82 185.6,158.67 185.66,158.51 185.72,158.35 185.78,158.19 185.84,158.02 185.9,157.86 185.96,157.69 186.02,157.52 186.05,157.44 186.08,157.35 186.14,157.18 186.2,157.01 186.26,156.83 186.32,156.66 186.38,156.48 186.44,156.29 186.5,156.11 186.56,155.93 186.62,155.74 186.68,155.55 186.74,155.36 186.79,155.2 186.8,155.17 186.86,154.97 186.92,154.77 186.98,154.57 187.04,154.37 187.11,154.17 187.17,153.96 187.23,153.75 187.29,153.54 187.35,153.33 187.41,153.12 187.47,152.9 187.53,152.68 187.54,152.65 187.59,152.46 187.65,152.24 187.71,152.01 187.77,151.78 187.83,151.55 187.89,151.32 187.95,151.08 188.01,150.85 188.07,150.61 188.13,150.36 188.19,150.12 188.25,149.87 188.28,149.75 188.31,149.62 188.37,149.37 188.43,149.12 188.49,148.86 188.55,148.6 188.61,148.34 188.67,148.07 188.73,147.81 188.79,147.54 188.85,147.26 188.91,146.99 188.97,146.71 189.02,146.48 189.03,146.43 189.09,146.15 189.15,145.86 189.21,145.58 189.27,145.29 189.33,144.99 189.39,144.7 189.45,144.4 189.51,144.1 189.57,143.8 189.63,143.49 189.69,143.18 189.75,142.87 189.76,142.82 189.81,142.56 189.87,142.24 189.93,141.92 189.99,141.6 190.05,141.28 190.11,140.95 190.17,140.62 190.23,140.29 190.29,139.96 190.35,139.62 190.41,139.28 190.47,138.94 190.5,138.77 190.53,138.6 190.59,138.25 190.65,137.9 190.71,137.55 190.77,137.2 190.83,136.84 190.89,136.49 190.95,136.13 191.01,135.76 191.08,135.4 191.14,135.03 191.2,134.66 191.25,134.36 191.26,134.29 191.32,133.92 191.38,133.54 191.44,133.17 191.5,132.79 191.56,132.41 191.62,132.02 191.68,131.64 191.74,131.25 191.8,130.86 191.86,130.47 191.92,130.08 191.98,129.68 191.99,129.62 192.04,129.29 192.1,128.89 192.16,128.49 192.22,128.09 192.28,127.69 192.34,127.28 192.4,126.88 192.46,126.47 192.52,126.06 192.58,125.66 192.64,125.25 192.7,124.83 192.73,124.63 192.76,124.42 192.82,124.01 192.88,123.59 192.94,123.18 193,122.76 193.06,122.35 193.12,121.93 193.18,121.51 193.24,121.09 193.3,120.67 193.36,120.25 193.42,119.83 193.47,119.48 193.48,119.41 193.54,118.99 193.6,118.57 193.66,118.15 193.72,117.72 193.78,117.3 193.84,116.92 193.9,116.58 193.96,116.23 194.02,115.89 194.08,115.55 194.14,115.2 194.2,114.86 194.21,114.8 194.26,114.52 194.32,114.17 194.38,113.83 194.44,113.49 194.5,113.15 194.56,112.81 194.62,112.47 194.68,112.12 194.74,111.78 194.8,111.44 194.86,111.1 194.92,110.76 194.95,110.6 194.98,110.43 195.04,110.09 195.11,109.75 195.17,109.41 195.23,109.07 195.29,108.74 195.35,108.4 195.41,108.07 195.47,107.73 195.53,107.4 195.59,107.07 195.65,106.74 195.7,106.46 195.71,106.4 195.77,106.07 195.83,105.74 195.89,105.41 195.95,105.09 196.01,104.76 196.07,104.43 196.13,104.11 196.19,103.78 196.25,103.46 196.31,103.14 196.37,102.81 196.43,102.49 196.44,102.44 196.49,102.17 196.55,101.85 196.61,101.54 196.67,101.22 196.73,100.91 196.79,100.59 196.85,100.28 196.91,99.97 196.97,99.65 197.03,99.34 197.09,99.04 197.15,98.73 197.18,98.58 197.21,98.42 197.27,98.12 197.33,97.81 197.39,97.51 197.45,97.21 197.51,96.91 197.57,96.61 197.63,96.31 197.69,96.02 197.75,95.72 197.81,95.43 197.87,95.14 197.92,94.9 197.93,94.85 197.99,94.56 198.05,94.27 198.11,93.98 198.17,93.7 198.23,93.41 198.29,93.13 198.35,92.85 198.41,92.57 198.47,92.29 198.53,92.02 198.59,91.74 198.65,91.47 198.66,91.42 198.71,91.2 198.77,90.92 198.83,90.66 198.89,90.39 198.95,90.12 199.01,89.86 199.08,89.59 199.14,89.33 199.2,89.07 199.26,88.81 199.32,88.56 199.38,88.3 199.41,88.17 199.44,88.05 199.5,87.79 199.56,87.54 199.62,87.29 199.68,87.05 199.74,86.8 199.8,86.55 199.86,86.31 199.92,86.07 199.98,85.83 200.04,85.59 200.1,85.35 200.15,85.16 200.16,85.12 200.22,84.88 200.28,84.65 200.34,84.42 200.4,84.19 200.46,83.96 200.52,83.73 200.58,83.51 200.64,83.29 200.7,83.06 200.76,82.84 200.82,82.62 200.88,82.41 200.89,82.37 200.94,82.19 201,81.98 201.06,81.76 201.12,81.55 201.18,81.34 201.24,81.13 201.3,80.93 201.36,80.72 201.42,80.52 201.48,80.32 201.54,80.11 201.6,79.91 201.63,79.82 201.66,79.72 201.72,79.52 201.78,79.32 201.84,79.13 201.9,78.94 201.96,78.75 202.02,78.56 202.08,78.37 202.14,78.18 202.2,78 202.26,77.81 202.32,77.63 202.37,77.48 202.38,77.45 202.44,77.27 202.5,77.09 202.56,76.91 202.62,76.74 202.68,76.56 202.74,76.39 202.8,76.22 202.86,76.05 202.92,75.88 202.98,75.71 203.04,75.54 203.11,75.38 203.12,75.35 203.17,75.22 203.23,75.05 203.29,74.89 203.35,74.73 203.41,74.57 203.47,74.41 203.53,74.26 203.59,74.1 203.65,73.95 203.71,73.8 203.77,73.64 203.83,73.49 203.86,73.42 203.89,73.34 203.95,73.2 204.01,73.05 204.07,72.9 204.13,72.76 204.19,72.62 204.25,72.47 204.31,72.33 204.37,72.19 204.43,72.05 204.49,71.91 204.55,71.78 204.6,71.66 204.61,71.64 204.67,71.51 204.73,71.37 204.79,71.24 204.85,71.11 204.91,70.98 204.97,70.85 205.03,70.72 205.09,70.59 205.15,70.47 205.21,70.34 205.27,70.22 205.33,70.09 205.34,70.07 205.39,69.97 205.45,69.85 205.51,69.73 205.57,69.61 205.63,69.49 205.69,69.37 205.75,69.26 205.81,69.14 206.08,68.63 206.82,67.32 207.57,66.12 208.31,65.04 209.05,64.04 209.79,63.13 210.53,62.29 211.28,61.51 212.02,60.79 212.76,60.11 213.5,59.48 214.24,58.89 214.98,58.33 215.73,57.8 216.47,57.29 217.21,56.81 217.95,56.35 218.69,55.91 219.44,55.49 220.18,55.08 220.92,54.68 221.66,54.3 222.4,53.93 223.15,53.57 223.89,53.22 224.63,52.88 225.37,52.54 226.11,52.22 226.85,51.9 227.6,51.59 228.34,51.29 229.08,50.99 229.82,50.7 230.56,50.42 231.31,50.14 232.05,49.87 232.79,49.61 233.53,49.34 234.27,49.09 235.01,48.84 235.76,48.59 236.5,48.35 237.24,48.12 237.98,47.89 238.72,47.66 239.47,47.44 240.21,47.22 240.95,47 241.69,46.79 242.43,46.59 243.18,46.38 243.92,46.18 244.66,45.99 245.4,45.8 246.14,45.61 246.88,45.43 247.63,45.25 248.37,45.07 249.11,44.89 249.85,44.72 250.59,44.55 251.34,44.39 252.08,44.23 252.82,44.07 253.56,43.91 254.3,43.76 255.04,43.61 255.79,43.46 256.53,43.31 257.27,43.17 258.01,43.03 258.75,42.89 259.5,42.75 260.24,42.62 260.98,42.49 261.72,42.36 262.46,42.23 263.21,42.11 263.95,41.99 264.69,41.86 265.43,41.75 266.17,41.63 266.91,41.52 267.66,41.4 268.4,41.29 269.14,41.18 269.88,41.08 270.62,40.97 271.37,40.87 272.11,40.76 272.85,40.66 273.59,40.57 274.33,40.47 275.07,40.37 275.82,40.28 276.56,40.19 277.3,40.09 278.04,40.01 278.78,39.92 279.53,39.83 280.27,39.74 281.01,39.66 281.75,39.58 282.49,39.5 283.24,39.41 283.98,39.34 284.72,39.26 285.46,39.18 286.2,39.11 286.94,39.03 287.69,38.96 288.43,38.88 289.17,38.81 289.91,38.74 290.65,38.67 291.4,38.61 292.14,38.54 292.88,38.47 293.62,38.41 294.36,38.34 295.11,38.28 295.85,38.22 296.59,38.16 297.33,38.09 298.07,38.04 298.81,37.98 299.56,37.92 300.3,37.86 301.04,37.8 301.78,37.75 302.52,37.69 303.27,37.64 304.01,37.59 304.75,37.53 305.49,37.48 306.23,37.43 306.97,37.38 307.72,37.33 308.46,37.28 309.2,37.23 309.94,37.18 310.68,37.14 311.43,37.09 312.17,37.04 312.91,37 313.65,36.95 314.39,36.91 315.14,36.87 315.88,36.82 316.62,36.78 317.36,36.74 318.1,36.7 318.84,36.66 319.59,36.62 320.33,36.58 321.07,36.54 321.81,36.5 322.55,36.46 323.3,36.43 324.04,36.39 324.78,36.35 325.52,36.32 326.26,36.28 327,36.24 327.75,36.21 328.49,36.18 329.23,36.14 329.97,36.11 330.71,36.08 331.46,36.04 332.2,36.01 332.94,35.98 333.68,35.95 334.42,35.92 335.17,35.89 335.91,35.86 336.65,35.83 337.39,35.8 338.13,35.77 338.87,35.74 339.62,35.71 340.36,35.68 341.1,35.66" stroke="#9cbe2e"/>
<polyline points="45.1,207.75 45.84,207.71 46.58,207.68 47.33,207.64 48.07,207.61 48.81,207.57 49.55,207.53 50.29,207.49 51.03,207.46 51.78,207.42 52.52,207.38 53.26,207.34 54,207.3 54.74,207.26 55.49,207.22 56.23,207.18 56.97,207.13 57.71,207.09 58.45,207.05 59.2,207.01 59.94,206.96 60.68,206.92 61.42,206.87 62.16,206.83 62.9,206.78 63.65,206.73 64.39,206.69 65.13,206.64 65.87,206.59 66.61,206.54 67.36,206.49 68.1,206.44 68.84,206.39 69.58,206.34 70.32,206.29 71.06,206.23 71.81,206.18 72.55,206.13 73.29,206.07 74.03,206.02 74.77,205.96 75.52,205.9 76.26,205.85 77,205.79 77.74,205.73 78.48,205.67 79.23,205.61 79.97,205.55 80.71,205.48 81.45,205.42 82.19,205.36 82.93,205.29 83.68,205.23 84.42,205.16 85.16,205.09 85.9,205.02 86.64,204.95 87.39,204.88 88.13,204.81 88.87,204.74 89.61,204.67 90.35,204.59 91.09,204.52 91.84,204.44 92.58,204.36 93.32,204.29 94.06,204.21 94.8,204.13 95.55,204.05 96.29,203.96 97.03,203.88 97.77,203.79 98.51,203.71 99.26,203.62 100,203.53 100.74,203.44 101.48,203.35 102.22,203.26 102.96,203.17 103.71,203.07 104.45,202.97 105.19,202.88 105.93,202.78 106.67,202.68 107.42,202.57 108.16,202.47 108.9,202.37 109.64,202.26 110.38,202.15 111.13,202.04 111.87,201.93 112.61,201.82 113.35,201.7 114.09,201.58 114.83,201.47 115.58,201.35 116.32,201.22 117.06,201.1 117.8,200.97 118.54,200.85 119.29,200.72 120.03,200.59 120.77,200.45 121.51,200.32 122.25,200.18 122.99,200.04 123.74,199.9 124.48,199.75 125.22,199.6 125.96,199.46 126.7,199.3 127.45,199.15 128.19,198.99 128.93,198.84 129.67,198.67 130.41,198.51 131.16,198.34 131.9,198.18 132.64,198 133.38,197.83 134.12,197.65 134.86,197.47 135.61,197.29 136.35,197.1 137.09,196.91 137.83,196.72 138.57,196.52 139.32,196.33 140.06,196.12 140.8,195.92 141.54,195.71 142.28,195.5 143.02,195.28 143.77,195.06 144.51,194.84 145.25,194.61 145.99,194.38 146.73,194.15 147.48,193.91 148.22,193.67 148.96,193.43 149.7,193.18 150.44,192.92 151.19,192.67 151.93,192.4 152.67,192.14 153.41,191.87 154.15,191.59 154.89,191.31 155.64,191.03 156.38,190.74 157.12,190.45 157.86,190.15 158.6,189.85 159.35,189.54 160.09,189.23 160.83,188.91 161.57,188.59 162.31,188.26 163.05,187.93 163.8,187.59 164.54,187.24 165.28,186.89 166.02,186.53 166.76,186.17 167.51,185.79 168.25,185.41 168.99,185.02 169.73,184.63 170.47,184.22 171.22,183.79 171.96,183.36 172.7,182.9 173.44,182.43 174.18,181.94 174.92,181.42 175.67,180.86 176.41,180.27 177.15,179.64 177.89,178.95 178.63,178.19 179.38,177.36 180.12,176.43 180.86,175.38 180.96,175.23 181.02,175.14 181.08,175.04 181.14,174.95 181.2,174.85 181.26,174.76 181.32,174.66 181.38,174.56 181.44,174.46 181.5,174.36 181.56,174.26 181.6,174.2 181.62,174.16 181.68,174.06 181.74,173.95 181.8,173.85 181.86,173.74 181.92,173.63 181.98,173.52 182.04,173.41 182.1,173.3 182.16,173.19 182.22,173.07 182.29,172.96 182.34,172.84 182.35,172.84 182.41,172.72 182.47,172.6 182.53,172.48 182.59,172.36 182.65,172.24 182.71,172.11 182.77,171.99 182.83,171.86 182.89,171.73 182.95,171.6 183.01,171.47 183.07,171.34 183.08,171.3 183.13,171.2 183.19,171.06 183.25,170.93 183.31,170.79 183.37,170.65 183.43,170.5 183.49,170.36 183.55,170.21 183.61,170.06 183.67,169.91 183.73,169.76 183.79,169.61 183.83,169.51 183.85,169.46 183.91,169.3 183.97,169.14 184.03,168.98 184.09,168.82 184.15,168.65 184.21,168.49 184.27,168.32 184.33,168.15 184.39,167.98 184.45,167.8 184.51,167.63 184.57,167.46 184.57,167.45 184.63,167.27 184.69,167.09 184.75,166.9 184.81,166.72 184.87,166.53 184.93,166.34 184.99,166.15 185.05,165.95 185.11,165.75 185.17,165.55 185.23,165.35 185.29,165.15 185.31,165.08 185.35,164.94 185.41,164.73 185.47,164.52 185.53,164.3 185.59,164.09 185.65,163.87 185.71,163.65 185.77,163.42 185.83,163.2 185.89,162.97 185.95,162.74 186.01,162.5 186.05,162.35 186.07,162.27 186.13,162.03 186.19,161.78 186.25,161.54 186.32,161.29 186.38,161.04 186.44,160.79 186.5,160.53 186.56,160.27 186.62,160.01 186.68,159.75 186.74,159.48 186.79,159.22 186.8,159.21 186.86,158.94 186.92,158.66 186.98,158.38 187.04,158.1 187.1,157.82 187.16,157.53 187.22,157.24 187.28,156.95 187.34,156.65 187.4,156.35 187.46,156.05 187.52,155.74 187.54,155.65 187.58,155.43 187.64,155.12 187.7,154.81 187.76,154.49 187.82,154.17 187.88,153.84 187.94,153.51 188,153.18 188.06,152.85 188.12,152.51 188.18,152.17 188.24,151.83 188.28,151.61 188.3,151.48 188.36,151.13 188.42,150.78 188.48,150.43 188.54,150.07 188.6,149.71 188.66,149.34 188.72,148.97 188.78,148.6 188.84,148.23 188.9,147.85 188.96,147.47 189.02,147.1 189.02,147.08 189.08,146.7 189.14,146.31 189.2,145.91 189.26,145.52 189.32,145.12 189.38,144.71 189.44,144.31 189.5,143.9 189.56,143.49 189.62,143.08 189.68,142.66 189.74,142.24 189.76,142.11 189.8,141.81 189.86,141.39 189.92,140.96 189.98,140.53 190.04,140.09 190.1,139.66 190.16,139.22 190.22,138.78 190.29,138.33 190.35,137.88 190.41,137.43 190.47,136.98 190.5,136.69 190.53,136.52 190.59,136.07 190.65,135.61 190.71,135.14 190.77,134.68 190.83,134.21 190.89,133.74 190.95,133.27 191.01,132.8 191.07,132.32 191.13,131.84 191.19,131.37 191.25,130.9 191.25,130.88 191.31,130.4 191.37,129.92 191.43,129.43 191.49,128.94 191.55,128.45 191.61,127.96 191.67,127.46 191.73,126.97 191.79,126.47 191.85,125.98 191.91,125.48 191.97,124.98 191.99,124.83 192.03,124.48 192.09,123.97 192.15,123.47 192.21,122.97 192.27,122.46 192.33,121.95 192.39,121.45 192.45,120.94 192.51,120.43 192.57,119.92 192.63,119.42 192.69,118.91 192.73,118.58 192.75,118.4 192.81,117.89 192.87,117.38 192.93,116.87 192.99,115.93 193.05,114.56 193.11,113.22 193.17,111.91 193.23,110.64 193.29,109.42 193.35,108.26 193.41,107.16 193.47,106.17 193.47,106.13 193.53,105.17 193.59,104.26 193.65,103.42 193.71,102.64 193.77,101.91 193.83,101.24 193.89,100.6 193.95,100.01 194.01,99.46 194.07,98.94 194.13,98.45 194.19,97.98 194.21,97.85 194.25,97.54 194.32,97.12 194.38,96.71 194.44,96.32 194.5,95.94 194.56,95.58 194.62,95.22 194.68,94.87 194.74,94.53 194.8,94.2 194.86,93.87 194.92,93.55 194.95,93.34 194.98,93.23 195.04,92.91 195.1,92.6 195.16,92.29 195.22,91.99 195.28,91.69 195.34,91.39 195.4,91.09 195.46,90.79 195.52,90.5 195.58,90.21 195.64,89.92 195.7,89.64 195.7,89.63 195.76,89.34 195.82,89.06 195.88,88.77 195.94,88.49 196,88.21 196.06,87.93 196.12,87.65 196.18,87.37 196.24,87.1 196.3,86.82 196.36,86.55 196.42,86.27 196.44,86.19 196.48,86 196.54,85.73 196.6,85.47 196.66,85.2 196.72,84.93 196.78,84.67 196.84,84.41 196.9,84.15 196.96,83.88 197.02,83.63 197.08,83.37 197.14,83.11 197.18,82.95 197.2,82.86 197.26,82.6 197.32,82.35 197.38,82.1 197.44,81.85 197.5,81.6 197.56,81.36 197.62,81.11 197.68,80.87 197.74,80.62 197.8,80.38 197.86,80.14 197.92,79.91 197.92,79.9 197.98,79.67 198.04,79.43 198.1,79.19 198.16,78.96 198.22,78.73 198.29,78.5 198.35,78.27 198.41,78.04 198.47,77.82 198.53,77.59 198.59,77.37 198.65,77.14 198.66,77.08 198.71,76.92 198.77,76.7 198.83,76.49 198.89,76.27 198.95,76.05 199.01,75.84 199.07,75.63 199.13,75.41 199.19,75.2 199.25,75 199.31,74.79 199.37,74.58 199.41,74.45 199.43,74.38 199.49,74.17 199.55,73.97 199.61,73.77 199.67,73.57 199.73,73.37 199.79,73.17 199.85,72.98 199.91,72.78 199.97,72.59 200.03,72.4 200.09,72.21 200.15,72.02 200.15,72.02 200.21,71.83 200.27,71.64 200.33,71.45 200.39,71.27 200.45,71.09 200.51,70.9 200.57,70.72 200.63,70.54 200.69,70.36 200.75,70.19 200.81,70.01 200.87,69.83 200.89,69.78 200.93,69.66 200.99,69.49 201.05,69.32 201.11,69.14 201.17,68.97 201.23,68.81 201.29,68.64 201.35,68.47 201.41,68.31 201.47,68.14 201.53,67.98 201.59,67.82 201.63,67.72 201.65,67.66 201.71,67.5 201.77,67.34 201.83,67.18 201.89,67.03 201.95,66.87 202.01,66.72 202.07,66.56 202.13,66.41 202.19,66.26 202.25,66.11 202.32,65.96 202.37,65.81 202.38,65.81 202.44,65.66 202.5,65.52 202.56,65.37 202.62,65.23 202.68,65.08 202.74,64.94 202.8,64.8 202.86,64.66 202.92,64.52 202.98,64.38 203.04,64.24 203.1,64.1 203.12,64.06 203.16,63.97 203.22,63.83 203.28,63.7 203.34,63.56 203.4,63.43 203.46,63.3 203.52,63.17 203.58,63.04 203.64,62.91 203.7,62.78 203.76,62.65 203.82,62.52 203.86,62.44 203.88,62.4 203.94,62.27 204,62.15 204.06,62.03 204.12,61.9 204.18,61.78 204.24,61.66 204.3,61.54 204.36,61.42 204.42,61.3 204.48,61.18 204.54,61.06 204.6,60.95 204.6,60.95 204.66,60.83 204.72,60.72 204.78,60.6 204.84,60.49 204.9,60.38 204.96,60.26 205.34,59.57 206.08,58.29 206.82,57.11 207.57,56 208.31,54.98 209.05,54.02 209.79,53.12 210.53,52.28 211.28,51.5 212.02,50.76 212.76,50.06 213.5,49.4 214.24,48.78 214.98,48.19 215.73,47.63 216.47,47.1 217.21,46.6 217.95,46.12 218.69,45.66 219.44,45.23 220.18,44.81 220.92,44.41 221.66,44.03 222.4,43.66 223.15,43.31 223.89,42.97 224.63,42.64 225.37,42.33 226.11,42.02 226.85,41.73 227.6,41.45 228.34,41.17 229.08,40.91 229.82,40.65 230.56,40.4 231.31,40.16 232.05,39.92 232.79,39.7 233.53,39.48 234.27,39.26 235.01,39.05 235.76,38.85 236.5,38.65 237.24,38.45 237.98,38.26 238.72,38.08 239.47,37.9 240.21,37.72 240.95,37.55 241.69,37.38 242.43,37.21 243.18,37.05 243.92,36.89 244.66,36.73 245.4,36.58 246.14,36.43 246.88,36.28 247.63,36.14 248.37,36 249.11,35.86 249.85,35.72 250.59,35.58 251.34,35.45 252.08,35.32 252.82,35.19 253.56,35.07 254.3,34.94 255.04,34.82 255.79,34.7 256.53,34.58 257.27,34.46 258.01,34.34 258.75,34.23 259.5,34.12 260.24,34 260.98,33.89 261.72,33.78 262.46,33.68 263.21,33.57 263.95,33.47 264.69,33.36 265.43,33.26 266.17,33.16 266.91,33.06 267.66,32.96 268.4,32.86 269.14,32.76 269.88,32.66 270.62,32.57 271.37,32.47 272.11,32.38 272.85,32.29 273.59,32.19 274.33,32.1 275.07,32.01 275.82,31.92 276.56,31.83 277.3,31.74 278.04,31.66 278.78,31.57 279.53,31.48 280.27,31.4 281.01,31.31 281.75,31.23 282.49,31.15 283.24,31.06 283.98,30.98 284.72,30.9 285.46,30.82 286.2,30.74 286.94,30.66 287.69,30.58 288.43,30.5 289.17,30.42 289.91,30.34 290.65,30.26 291.4,30.18 292.14,30.11 292.88,30.03 293.62,29.96 294.36,29.88 295.11,29.8 295.85,29.73 296.59,29.66 297.33,29.58 298.07,29.51 298.81,29.43 299.56,29.36 300.3,29.29 301.04,29.22 301.78,29.15 302.52,29.07 303.27,29 304.01,28.93 304.75,28.86 305.49,28.79 306.23,28.72 306.97,28.65 307.72,28.58 308.46,28.51 309.2,28.45 309.94,28.38 310.68,28.31 311.43,28.24 312.17,28.17 312.91,28.11 313.65,28.04 314.39,27.97 315.14,27.91 315.88,27.84 316.62,27.77 317.36,27.71 318.1,27.64 318.84,27.58 319.59,27.51 320.33,27.45 321.07,27.38 321.81,27.32 322.55,27.25 323.3,27.19 324.04,27.12 324.78,27.06 325.52,27 326.26,26.93 327,26.87 327.75,26.81 328.49,26.74 329.23,26.68 329.97,26.62 330.71,26.55 331.46,26.49 332.2,26.43 332.94,26.37 333.68,26.31 334.42,26.25 335.17,26.18 335.91,26.12 336.65,26.06 337.39,26 338.13,25.94 338.87,25.88 339.62,25.82 340.36,25.76 341.1,25.7" stroke="#000000"/>
<polyline points="45.1,221.77 45.84,221.75 46.58,221.72 47.33,221.7 48.07,221.67 48.81,221.64 49.55,221.62 50.29,221.59 51.03,221.56 51.78,221.54 52.52,221.51 53.26,221.48 54,221.46 54.74,221.43 55.49,221.4 56.23,221.37 56.97,221.34 57.71,221.32 58.45,221.29 59.2,221.26 59.94,221.23 60.68,221.2 61.42,221.17 62.16,221.14 62.9,221.12 63.65,221.09 64.39,221.06 65.13,221.03 65.87,221 66.61,220.97 67.36,220.93 68.1,220.9 68.84,220.87 69.58,220.84 70.32,220.81 71.06,220.78 71.81,220.75 72.55,220.71 73.29,220.68 74.03,220.65 74.77,220.62 75.52,220.58 76.26,220.55 77,220.52 77.74,220.48 78.48,220.45 79.23,220.41 79.97,220.38 80.71,220.34 81.45,220.31 82.19,220.27 82.93,220.24 83.68,220.2 84.42,220.16 85.16,220.13 85.9,220.09 86.64,220.05 87.39,220.01 88.13,219.97 88.87,219.94 89.61,219.9 90.35,219.86 91.09,219.82 91.84,219.78 92.58,219.74 93.32,219.7 94.06,219.65 94.8,219.61 95.55,219.57 96.29,219.53 97.03,219.48 97.77,219.44 98.51,219.39 99.26,219.35 100,219.3 100.74,219.26 101.48,219.21 102.22,219.17 102.96,219.12 103.71,219.07 104.45,219.02 105.19,218.97 105.93,218.92 106.67,218.87 107.42,218.82 108.16,218.77 108.9,218.72 109.64,218.66 110.38,218.61 111.13,218.55 111.87,218.5 112.61,218.44 113.35,218.38 114.09,218.33 114.83,218.27 115.58,218.21 116.32,218.15 117.06,218.09 117.8,218.02 118.54,217.96 119.29,217.9 120.03,217.83 120.77,217.76 121.51,217.7 122.25,217.63 122.99,217.56 123.74,217.49 124.48,217.41 125.22,217.34 125.96,217.26 126.7,217.19 127.45,217.11 128.19,217.03 128.93,216.95 129.67,216.87 130.41,216.78 131.16,216.7 131.9,216.61 132.64,216.52 133.38,216.43 134.12,216.34 134.86,216.24 135.61,216.14 136.35,216.04 137.09,215.94 137.83,215.84 138.57,215.73 139.32,215.62 140.06,215.51 140.8,215.4 141.54,215.28 142.28,215.16 143.02,215.03 143.77,214.91 144.51,214.78 145.25,214.64 145.99,214.51 146.73,214.36 147.48,214.22 148.22,214.07 148.96,213.91 149.7,213.75 150.44,213.59 151.19,213.42 151.93,213.25 152.67,213.07 153.41,212.88 154.15,212.69 154.89,212.49 155.64,212.28 156.38,212.07 157.12,211.84 157.86,211.61 158.6,211.37 159.35,211.12 160.09,210.86 160.83,210.59 161.57,210.31 162.31,210.01 163.05,209.71 163.8,209.38 164.54,209.05 165.28,208.69 166.02,208.32 166.76,207.93 167.51,207.52 168.25,207.09 168.99,206.63 169.73,206.15 170.47,205.64 171.22,205.1 171.96,204.52 172.7,203.91 173.44,203.25 174.18,202.56 174.92,201.81 175.67,201.01 176.41,200.15 177.15,199.22 177.89,198.21 178.63,197.13 179.38,195.94 180.12,194.65 180.86,193.24 181.33,192.28 181.39,192.15 181.45,192.02 181.51,191.89 181.57,191.76 181.6,191.7 181.63,191.63 181.69,191.5 181.75,191.37 181.81,191.23 181.87,191.1 181.93,190.96 181.99,190.82 182.05,190.68 182.11,190.54 182.17,190.4 182.23,190.26 182.29,190.12 182.34,189.99 182.35,189.97 182.41,189.83 182.47,189.68 182.53,189.53 182.59,189.38 182.65,189.23 182.71,189.08 182.77,188.93 182.83,188.77 182.89,188.62 182.95,188.46 183.01,188.3 183.07,188.14 183.08,188.11 183.13,187.98 183.19,187.82 183.25,187.66 183.31,187.49 183.37,187.33 183.43,187.16 183.5,186.99 183.56,186.82 183.62,186.65 183.68,186.47 183.74,186.3 183.8,186.12 183.83,186.03 183.86,185.94 183.92,185.77 183.98,185.58 184.04,185.4 184.1,185.22 184.16,185.03 184.22,184.85 184.28,184.66 184.34,184.47 184.4,184.27 184.46,184.08 184.52,183.88 184.57,183.72 184.58,183.69 184.64,183.49 184.7,183.29 184.76,183.09 184.82,182.88 184.88,182.67 184.94,182.47 185,182.26 185.06,182.05 185.12,181.83 185.18,181.62 185.24,181.4 185.3,181.18 185.31,181.14 185.36,180.96 185.42,180.73 185.48,180.51 185.54,180.28 185.6,180.05 185.66,179.82 185.72,179.59 185.78,179.35 185.84,179.11 185.9,178.87 185.96,178.63 186.02,178.39 186.05,178.26 186.08,178.14 186.14,177.89 186.2,177.64 186.26,177.38 186.32,177.13 186.38,176.87 186.44,176.61 186.5,176.35 186.56,176.08 186.62,175.81 186.68,175.54 186.74,175.27 186.79,175.03 186.8,174.99 186.86,174.71 186.92,174.43 186.98,174.15 187.04,173.86 187.1,173.57 187.16,173.28 187.22,172.99 187.28,172.69 187.34,172.39 187.4,172.09 187.46,171.78 187.53,171.47 187.54,171.42 187.59,171.16 187.65,170.85 187.71,170.53 187.77,170.21 187.83,169.89 187.89,169.56 187.95,169.23 188.01,168.9 188.07,168.56 188.13,168.23 188.19,167.88 188.25,167.54 188.28,167.36 188.31,167.19 188.37,166.84 188.43,166.48 188.49,166.12 188.55,165.76 188.61,165.4 188.67,165.03 188.73,164.65 188.79,164.28 188.85,163.9 188.91,163.52 188.97,163.13 189.02,162.8 189.03,162.74 189.09,162.34 189.15,161.94 189.21,161.54 189.27,161.13 189.33,160.72 189.39,160.31 189.45,159.89 189.51,159.47 189.57,159.04 189.63,158.61 189.69,158.17 189.75,157.73 189.76,157.65 189.81,157.29 189.87,156.84 189.93,156.38 189.99,155.92 190.05,155.46 190.11,154.99 190.17,154.51 190.23,154.03 190.29,153.54 190.35,153.05 190.41,152.55 190.47,152.05 190.5,151.79 190.53,151.54 190.59,151.02 190.65,150.5 190.71,149.97 190.77,149.43 190.83,148.89 190.89,148.34 190.95,147.78 191.01,147.21 191.07,146.64 191.13,146.05 191.19,145.46 191.25,144.95 191.25,144.86 191.31,144.25 191.37,143.63 191.43,143 191.5,142.36 191.56,141.71 191.62,141.05 191.68,140.38 191.74,139.7 191.8,139.01 191.86,138.3 191.92,137.58 191.98,136.85 191.99,136.72 192.04,136.11 192.1,135.36 192.16,134.59 192.22,133.81 192.28,133.02 192.34,132.21 192.4,131.4 192.46,130.57 192.52,129.73 192.58,128.88 192.64,128.02 192.7,127.14 192.73,126.69 192.76,126.26 192.82,125.37 192.88,124.47 192.94,123.56 193,122.64 193.06,121.72 193.12,120.8 193.18,119.87 193.24,118.93 193.3,118 193.36,117.09 193.42,116.22 193.47,115.47 193.48,115.34 193.54,114.46 193.6,113.59 193.66,112.72 193.72,111.85 193.78,110.98 193.84,110.11 193.9,109.25 193.96,108.39 194.02,107.53 194.08,106.68 194.14,105.83 194.2,104.99 194.21,104.83 194.26,104.15 194.32,103.31 194.38,102.48 194.44,101.66 194.5,100.84 194.56,100.03 194.62,99.22 194.68,98.42 194.74,97.63 194.8,96.84 194.86,96.06 194.92,95.29 194.95,94.9 194.98,94.53 195.04,93.77 195.1,93.02 195.16,92.28 195.22,91.55 195.28,90.82 195.34,90.1 195.4,89.39 195.46,88.69 195.53,88 195.59,87.32 195.65,86.64 195.7,86.07 195.71,85.97 195.77,85.31 195.83,84.66 195.89,84.02 195.95,83.39 196.01,82.76 196.07,82.15 196.13,81.54 196.19,80.94 196.25,80.35 196.31,79.77 196.37,79.2 196.43,78.63 196.44,78.53 196.49,78.08 196.55,77.53 196.61,76.99 196.67,76.46 196.73,75.93 196.79,75.42 196.85,74.91 196.91,74.41 196.97,73.92 197.03,73.43 197.09,72.96 197.15,72.49 197.18,72.25 197.21,72.03 197.27,71.57 197.33,71.12 197.39,70.68 197.45,70.25 197.51,69.82 197.57,69.4 197.63,68.99 197.69,68.58 197.75,68.18 197.81,67.79 197.87,67.4 197.92,67.07 197.93,67.02 197.99,66.64 198.05,66.27 198.11,65.91 198.17,65.55 198.23,65.2 198.29,64.85 198.35,64.51 198.41,64.17 198.47,63.84 198.53,63.51 198.59,63.19 198.65,62.87 198.66,62.81 198.71,62.56 198.77,62.25 198.83,61.95 198.89,61.65 198.95,61.36 199.01,61.07 199.07,60.78 199.13,60.5 199.19,60.22 199.25,59.95 199.31,59.68 199.37,59.41 199.41,59.28 199.43,59.15 199.5,58.89 199.56,58.64 199.62,58.39 199.68,58.14 199.74,57.89 199.8,57.65 199.86,57.41 199.92,57.18 199.98,56.95 200.04,56.72 200.1,56.49 200.15,56.3 200.16,56.27 200.22,56.04 200.28,55.83 200.34,55.61 200.4,55.4 200.46,55.19 200.52,54.98 200.58,54.77 200.64,54.57 200.7,54.37 200.76,54.17 200.82,53.98 200.88,53.78 200.89,53.75 200.94,53.59 201,53.4 201.06,53.21 201.12,53.03 201.18,52.84 201.24,52.66 201.3,52.48 201.36,52.3 201.42,52.13 201.48,51.95 201.54,51.78 201.6,51.61 201.63,51.52 201.66,51.44 201.72,51.27 201.78,51.11 201.84,50.94 201.9,50.78 201.96,50.62 202.02,50.46 202.08,50.3 202.14,50.14 202.2,49.99 202.26,49.83 202.32,49.68 202.37,49.55 202.38,49.53 202.44,49.38 202.5,49.23 202.56,49.08 202.62,48.93 202.68,48.79 202.74,48.65 202.8,48.5 202.86,48.36 202.92,48.22 202.98,48.08 203.04,47.94 203.1,47.81 203.12,47.78 203.16,47.67 203.22,47.53 203.28,47.4 203.34,47.27 203.4,47.13 203.46,47 203.53,46.87 203.59,46.74 203.65,46.62 203.71,46.49 203.77,46.36 203.83,46.24 203.86,46.17 203.89,46.11 203.95,45.99 204.01,45.87 204.07,45.74 204.13,45.62 204.19,45.5 204.25,45.38 204.31,45.26 204.37,45.15 204.43,45.03 204.49,44.91 204.55,44.8 204.6,44.7 204.61,44.68 204.67,44.57 204.73,44.45 204.79,44.34 204.85,44.23 204.91,44.12 204.97,44.01 205.03,43.9 205.09,43.79 205.15,43.68 205.21,43.57 205.27,43.46 205.33,43.36 205.34,43.34 206.08,42.07 206.82,40.89 207.57,39.79 208.31,38.76 209.05,37.78 209.79,36.87 210.53,36 211.28,35.19 212.02,34.41 212.76,33.68 213.5,32.99 214.24,32.33 214.98,31.71 215.73,31.12 216.47,30.55 217.21,30.01 217.95,29.5 218.69,29.01 219.44,28.55 220.18,28.1 220.92,27.68 221.66,27.27 222.4,26.88 223.15,26.5 223.89,26.14 224.63,25.8 225.37,25.47 226.11,25.15 226.85,24.84 227.6,24.55 228.34,24.27 229.08,23.99 229.82,23.73 230.56,23.47 231.31,23.23 232.05,22.99 232.79,22.76 233.53,22.54 234.27,22.33 235.01,22.12 235.76,21.92 236.5,21.72 237.24,21.53 237.98,21.35 238.72,21.17 239.47,21 240.21,20.83 240.95,20.67 241.69,20.51 242.43,20.36 243.18,20.21 243.92,20.06 244.66,19.92 245.4,19.78 246.14,19.65 246.88,19.52 247.63,19.39 248.37,19.26 249.11,19.14 249.85,19.02 250.59,18.91 251.34,18.8 252.08,18.69 252.82,18.58 253.56,18.47 254.3,18.37 255.04,18.27 255.79,18.17 256.53,18.07 257.27,17.98 258.01,17.89 258.75,17.8 259.5,17.71 260.24,17.62 260.98,17.54 261.72,17.45 262.46,17.37 263.21,17.29 263.95,17.22 264.69,17.14 265.43,17.06 266.17,16.99 266.91,16.92 267.66,16.85 268.4,16.78 269.14,16.71 269.88,16.64 270.62,16.57 271.37,16.51 272.11,16.45 272.85,16.38 273.59,16.32 274.33,16.26 275.07,16.2 275.82,16.14 276.56,16.09 277.3,16.03 278.04,15.97 278.78,15.92 279.53,15.86 280.27,15.81 281.01,15.76 281.75,15.71 282.49,15.66 283.24,15.61 283.98,15.56 284.72,15.51 285.46,15.46 286.2,15.41 286.94,15.37 287.69,15.32 288.43,15.28 289.17,15.23 289.91,15.19 290.65,15.15 291.4,15.1 292.14,15.06 292.88,15.02 293.62,14.98 294.36,14.94 295.11,14.9 295.85,14.86 296.59,14.82 297.33,14.78 298.07,14.74 298.81,14.71 299.56,14.67 300.3,14.63 301.04,14.6 301.78,14.56 302.52,14.53 303.27,14.49 304.01,14.46 304.75,14.43 305.49,14.39 306.23,14.36 306.97,14.33 307.72,14.29 308.46,14.26 309.2,14.23 309.94,14.2 310.68,14.17 311.43,14.14 312.17,14.11 312.91,14.08 313.65,14.05 314.39,14.02 315.14,13.99 315.88,13.96 316.62,13.93 317.36,13.91 318.1,13.88 318.84,13.85 319.59,13.82 320.33,13.8 321.07,13.77 321.81,13.74 322.55,13.72 323.3,13.69 324.04,13.67 324.78,13.64 325.52,13.62 326.26,13.59 327,13.57 327.75,13.54 328.49,13.52 329.23,13.5 329.97,13.47 330.71,13.45 331.46,13.43 332.2,13.4 332.94,13.38 333.68,13.36 334.42,13.34 335.17,13.31 335.91,13.29 336.65,13.27 337.39,13.25 338.13,13.23 338.87,13.21 339.62,13.18 340.36,13.16 341.1,13.14" stroke="#ff0c6c"/>
</g>
<g>
<rect x="329.9" y="75.21" width="9.4" height="8.4" fill="#dc6890"/><rect x="331.2" y="76.41" width="6.8" height="6" rx="2.6" fill="#fff"/>
<rect x="325.7" y="75.51" width="9.4" height="8.4" fill="#dc6890"/><rect x="327" y="76.71" width="6.8" height="6" rx="2.6" fill="#fff"/>
<rect x="307.2" y="76.93" width="9.4" height="8.4" fill="#dc6890"/><rect x="308.5" y="78.13" width="6.8" height="6" rx="2.6" fill="#fff"/>
<rect x="303.2" y="77.26" width="9.4" height="8.4" fill="#dc6890"/><rect x="304.5" y="78.46" width="6.8" height="6" rx="2.6" fill="#fff"/>
<rect x="283.7" y="79.09" width="9.4" height="8.4" fill="#dc6890"/><rect x="285" y="80.29" width="6.8" height="6" rx="2.6" fill="#fff"/>
<rect x="277.4" y="79.77" width="9.4" height="8.4" fill="#dc6890"/><rect x="278.7" y="80.97" width="6.8" height="6" rx="2.6" fill="#fff"/>
<rect x="258.8" y="82.15" width="9.4" height="8.4" fill="#dc6890"/><rect x="260.1" y="83.35" width="6.8" height="6" rx="2.6" fill="#fff"/>
<rect x="253.8" y="82.92" width="9.4" height="8.4" fill="#dc6890"/><rect x="255.1" y="84.12" width="6.8" height="6" rx="2.6" fill="#fff"/>
<rect x="234.6" y="86.62" width="9.4" height="8.4" fill="#dc6890"/><rect x="235.9" y="87.82" width="6.8" height="6" rx="2.6" fill="#fff"/>
<rect x="229.6" y="87.84" width="9.4" height="8.4" fill="#dc6890"/><rect x="230.9" y="89.04" width="6.8" height="6" rx="2.6" fill="#fff"/>
<rect x="210.4" y="94.15" width="9.4" height="8.4" fill="#dc6890"/><rect x="211.7" y="95.35" width="6.8" height="6" rx="2.6" fill="#fff"/>
<rect x="204.4" y="96.93" width="9.4" height="8.4" fill="#dc6890"/><rect x="205.7" y="98.13" width="6.8" height="6" rx="2.6" fill="#fff"/>
<rect x="184.4" y="116.1" width="9.4" height="8.4" fill="#dc6890"/><rect x="185.7" y="117.3" width="6.8" height="6" rx="2.6" fill="#fff"/>
<rect x="179.1" y="122.8" width="9.4" height="8.4" fill="#dc6890"/><rect x="180.4" y="124" width="6.8" height="6" rx="2.6" fill="#fff"/>
<rect x="161.9" y="133.66" width="9.4" height="8.4" fill="#dc6890"/><rect x="163.2" y="134.86" width="6.8" height="6" rx="2.6" fill="#fff"/>
<rect x="155" y="136.33" width="9.4" height="8.4" fill="#dc6890"/><rect x="156.3" y="137.53" width="6.8" height="6" rx="2.6" fill="#fff"/>
<rect x="136.3" y="141.21" width="9.4" height="8.4" fill="#dc6890"/><rect x="137.6" y="142.41" width="6.8" height="6" rx="2.6" fill="#fff"/>
<rect x="131.4" y="142.15" width="9.4" height="8.4" fill="#dc6890"/><rect x="132.7" y="143.35" width="6.8" height="6" rx="2.6" fill="#fff"/>
<rect x="112.4" y="145.16" width="9.4" height="8.4" fill="#dc6890"/><rect x="113.7" y="146.36" width="6.8" height="6" rx="2.6" fill="#fff"/>
<rect x="107.4" y="145.84" width="9.4" height="8.4" fill="#dc6890"/><rect x="108.7" y="147.04" width="6.8" height="6" rx="2.6" fill="#fff"/>
<rect x="88.4" y="148.13" width="9.4" height="8.4" fill="#dc6890"/><rect x="89.7" y="149.33" width="6.8" height="6" rx="2.6" fill="#fff"/>
<rect x="84.2" y="148.6" width="9.4" height="8.4" fill="#dc6890"/><rect x="85.5" y="149.8" width="6.8" height="6" rx="2.6" fill="#fff"/>
<rect x="65.4" y="150.55" width="9.4" height="8.4" fill="#dc6890"/><rect x="66.7" y="151.75" width="6.8" height="6" rx="2.6" fill="#fff"/>
<rect x="61.3" y="150.96" width="9.4" height="8.4" fill="#dc6890"/><rect x="62.6" y="152.16" width="6.8" height="6" rx="2.6" fill="#fff"/>
<rect x="43.1" y="152.69" width="9.4" height="8.4" fill="#dc6890"/><rect x="44.4" y="153.89" width="6.8" height="6" rx="2.6" fill="#fff"/>
<path d="M194.5 112.45L199.2 120.35L189.8 120.35Z" fill="#6c16dc"/>
<path d="M190.8 128.35L195.5 136.25L186.1 136.25Z" fill="#6c16dc"/>
<path d="M171 156.07L175.7 163.97L166.3 163.97Z" fill="#6c16dc"/>
<path d="M174.5 154.22L179.2 162.12L169.8 162.12Z" fill="#6c16dc"/>
<path d="M150.2 163.51L154.9 171.41L145.5 171.41Z" fill="#6c16dc"/>
<path d="M153.7 162.5L158.4 170.39L149 170.39Z" fill="#6c16dc"/>
<path d="M130.5 168.06L135.2 175.96L125.8 175.96Z" fill="#6c16dc"/>
<path d="M134 167.38L138.7 175.28L129.3 175.28Z" fill="#6c16dc"/>
<path d="M109.5 171.28L114.2 179.18L104.8 179.18Z" fill="#6c16dc"/>
<path d="M113 170.83L117.7 178.73L108.3 178.73Z" fill="#6c16dc"/>
<path d="M90 173.33L94.7 181.22L85.3 181.22Z" fill="#6c16dc"/>
<path d="M93.5 173.01L98.2 180.9L88.8 180.9Z" fill="#6c16dc"/>
<path d="M70.9 174.76L75.6 182.65L66.2 182.65Z" fill="#6c16dc"/>
<path d="M74.4 174.53L79.1 182.42L69.7 182.42Z" fill="#6c16dc"/>
<path d="M52.7 175.76L57.4 183.66L48 183.66Z" fill="#6c16dc"/>
<path d="M56.2 175.59L60.9 183.49L51.5 183.49Z" fill="#6c16dc"/>
<path d="M214.8 72.82L219.5 80.71L210.1 80.71Z" fill="#6c16dc"/>
<path d="M217.5 71.47L222.2 79.36L212.8 79.36Z" fill="#6c16dc"/>
<path d="M231.7 65.82L236.4 73.72L227 73.72Z" fill="#6c16dc"/>
<path d="M235 64.78L239.7 72.68L230.3 72.68Z" fill="#6c16dc"/>
<path d="M249.3 61.1L254 69L244.6 69Z" fill="#6c16dc"/>
<path d="M252.5 60.43L257.2 68.33L247.8 68.33Z" fill="#6c16dc"/>
<path d="M270.2 57.43L274.9 65.33L265.5 65.33Z" fill="#6c16dc"/>
<path d="M273.5 56.98L278.2 64.87L268.8 64.87Z" fill="#6c16dc"/>
<path d="M291.6 54.88L296.3 62.77L286.9 62.77Z" fill="#6c16dc"/>
<path d="M294.5 54.59L299.2 62.49L289.8 62.49Z" fill="#6c16dc"/>
<path d="M311.8 53.09L316.5 60.99L307.1 60.99Z" fill="#6c16dc"/>
<path d="M314.5 52.89L319.2 60.78L309.8 60.78Z" fill="#6c16dc"/>
<path d="M331.7 51.7L336.4 59.59L327 59.59Z" fill="#6c16dc"/>
<path d="M337 51.37L341.7 59.26L332.3 59.26Z" fill="#6c16dc"/>
<circle cx="193.7" cy="109.8" r="4.6" fill="#dc52be"/>
<circle cx="172.9" cy="167.39" r="4.6" fill="#dc52be"/>
<circle cx="151.8" cy="177.14" r="4.6" fill="#dc52be"/>
<circle cx="132.5" cy="182.33" r="4.6" fill="#dc52be"/>
<circle cx="112.3" cy="185.67" r="4.6" fill="#dc52be"/>
<circle cx="93.5" cy="187.68" r="4.6" fill="#dc52be"/>
<circle cx="72.7" cy="189.19" r="4.6" fill="#dc52be"/>
<circle cx="51" cy="190.26" r="4.6" fill="#dc52be"/>
<circle cx="55.5" cy="190.07" r="4.6" fill="#dc52be"/>
<circle cx="212.3" cy="67.79" r="4.6" fill="#dc52be"/>
<circle cx="232.5" cy="57.37" r="4.6" fill="#dc52be"/>
<circle cx="252" cy="53.1" r="4.6" fill="#dc52be"/>
<circle cx="273.5" cy="50.13" r="4.6" fill="#dc52be"/>
<circle cx="293" cy="48.09" r="4.6" fill="#dc52be"/>
<circle cx="314.3" cy="46.19" r="4.6" fill="#dc52be"/>
<circle cx="332.3" cy="44.75" r="4.6" fill="#dc52be"/>
<path d="M197.2 85.6L202.2 90.1L197.2 94.6L192.2 90.1Z" fill="#9cbe2e"/>
<path d="M177.5 166.39L182.5 170.89L177.5 175.39L172.5 170.89Z" fill="#9cbe2e"/>
<path d="M167.8 173.33L172.8 177.83L167.8 182.33L162.8 177.83Z" fill="#9cbe2e"/>
<path d="M158.6 178.02L163.6 182.52L158.6 187.02L153.6 182.52Z" fill="#9cbe2e"/>
<path d="M150.2 181.31L155.2 185.81L150.2 190.31L145.2 185.81Z" fill="#9cbe2e"/>
<path d="M136.7 185.2L141.7 189.7L136.7 194.2L131.7 189.7Z" fill="#9cbe2e"/>
<path d="M129.4 186.79L134.4 191.29L129.4 195.79L124.4 191.29Z" fill="#9cbe2e"/>
<path d="M110.5 189.81L115.5 194.31L110.5 198.81L105.5 194.31Z" fill="#9cbe2e"/>
<path d="M116.8 188.95L121.8 193.45L116.8 197.95L111.8 193.45Z" fill="#9cbe2e"/>
<path d="M90.3 191.94L95.3 196.44L90.3 200.94L85.3 196.44Z" fill="#9cbe2e"/>
<path d="M96.6 191.37L101.6 195.87L96.6 200.37L91.6 195.87Z" fill="#9cbe2e"/>
<path d="M70.2 193.39L75.2 197.89L70.2 202.39L65.2 197.89Z" fill="#9cbe2e"/>
<path d="M76.5 192.99L81.5 197.49L76.5 201.99L71.5 197.49Z" fill="#9cbe2e"/>
<path d="M50 194.44L55 198.94L50 203.44L45 198.94Z" fill="#9cbe2e"/>
<path d="M56.3 194.15L61.3 198.65L56.3 203.15L51.3 198.65Z" fill="#9cbe2e"/>
<path d="M211.5 56.78L216.5 61.28L211.5 65.78L206.5 61.28Z" fill="#9cbe2e"/>
<path d="M217.4 52.19L222.4 56.69L217.4 61.19L212.4 56.69Z" fill="#9cbe2e"/>
<path d="M235.9 44.05L240.9 48.55L235.9 53.05L230.9 48.55Z" fill="#9cbe2e"/>
<path d="M239.2 43.01L244.2 47.51L239.2 52.01L234.2 47.51Z" fill="#9cbe2e"/>
<path d="M251 39.96L256 44.46L251 48.96L246 44.46Z" fill="#9cbe2e"/>
<path d="M256 38.91L261 43.41L256 47.91L251 43.41Z" fill="#9cbe2e"/>
<path d="M272.5 36.21L277.5 40.71L272.5 45.21L267.5 40.71Z" fill="#9cbe2e"/>
<path d="M277.3 35.59L282.3 40.09L277.3 44.59L272.3 40.09Z" fill="#9cbe2e"/>
<path d="M291.3 34.11L296.3 38.61L291.3 43.11L286.3 38.61Z" fill="#9cbe2e"/>
<path d="M297.5 33.58L302.5 38.08L297.5 42.58L292.5 38.08Z" fill="#9cbe2e"/>
<path d="M313.7 32.45L318.7 36.95L313.7 41.45L308.7 36.95Z" fill="#9cbe2e"/>
<path d="M318 32.2L323 36.7L318 41.2L313 36.7Z" fill="#9cbe2e"/>
<path d="M331.7 31.53L336.7 36.03L331.7 40.53L326.7 36.03Z" fill="#9cbe2e"/>
<path d="M336.6 31.33L341.6 35.83L336.6 40.33L331.6 35.83Z" fill="#9cbe2e"/>
<path d="M196.8 88.25L201.5 80.35L192.1 80.35Z" fill="#000000"/>
<path d="M176 184.55L180.7 176.66L171.3 176.66Z" fill="#000000"/>
<path d="M171 187.87L175.7 179.97L166.3 179.97Z" fill="#000000"/>
<path d="M155.2 195.14L159.9 187.25L150.5 187.25Z" fill="#000000"/>
<path d="M150.2 196.96L154.9 189.06L145.5 189.06Z" fill="#000000"/>
<path d="M133.4 201.77L138.1 193.88L128.7 193.88Z" fill="#000000"/>
<path d="M130.6 202.42L135.3 194.52L125.9 194.52Z" fill="#000000"/>
<path d="M110.5 206.08L115.2 198.18L105.8 198.18Z" fill="#000000"/>
<path d="M115.5 205.31L120.2 197.41L110.8 197.41Z" fill="#000000"/>
<path d="M90.3 208.55L95 200.65L85.6 200.65Z" fill="#000000"/>
<path d="M95.3 208.02L100 200.12L90.6 200.12Z" fill="#000000"/>
<path d="M70.2 210.24L74.9 202.35L65.5 202.35Z" fill="#000000"/>
<path d="M75.2 209.88L79.9 201.98L70.5 201.98Z" fill="#000000"/>
<path d="M50 211.46L54.7 203.56L45.3 203.56Z" fill="#000000"/>
<path d="M55.1 211.19L59.8 203.29L50.4 203.29Z" fill="#000000"/>
<path d="M210.6 56.16L215.3 48.26L205.9 48.26Z" fill="#000000"/>
<path d="M216 51.38L220.7 43.49L211.3 43.49Z" fill="#000000"/>
<path d="M231.7 43.98L236.4 36.09L227 36.09Z" fill="#000000"/>
<path d="M236.7 42.54L241.4 34.64L232 34.64Z" fill="#000000"/>
<path d="M250 39.64L254.7 31.74L245.3 31.74Z" fill="#000000"/>
<path d="M256.7 38.5L261.4 30.6L252 30.6Z" fill="#000000"/>
<path d="M272.8 36.24L277.5 28.34L268.1 28.34Z" fill="#000000"/>
<path d="M277 35.73L281.7 27.83L272.3 27.83Z" fill="#000000"/>
<path d="M293 33.97L297.7 26.07L288.3 26.07Z" fill="#000000"/>
<path d="M297.5 33.51L302.2 25.62L292.8 25.62Z" fill="#000000"/>
<path d="M312.4 32.1L317.1 24.2L307.7 24.2Z" fill="#000000"/>
<path d="M317.4 31.65L322.1 23.76L312.7 23.76Z" fill="#000000"/>
<path d="M331 30.48L335.7 22.58L326.3 22.58Z" fill="#000000"/>
<path d="M336 30.06L340.7 22.17L331.3 22.17Z" fill="#000000"/>
<rect x="187.9" y="123.6" width="9" height="9" fill="#ff0c6c"/>
<rect x="187.9" y="133.1" width="9" height="9" fill="#ff0c6c"/>
<rect x="168.3" y="199.32" width="9" height="9" fill="#ff0c6c"/>
<rect x="148.8" y="208.41" width="9" height="9" fill="#ff0c6c"/>
<rect x="129.1" y="211.9" width="9" height="9" fill="#ff0c6c"/>
<rect x="108.5" y="213.91" width="9" height="9" fill="#ff0c6c"/>
<rect x="87.1" y="215.29" width="9" height="9" fill="#ff0c6c"/>
<rect x="68.2" y="216.21" width="9" height="9" fill="#ff0c6c"/>
<rect x="49.3" y="216.96" width="9" height="9" fill="#ff0c6c"/>
<rect x="208" y="29.43" width="9" height="9" fill="#ff0c6c"/>
<rect x="228.6" y="18.17" width="9" height="9" fill="#ff0c6c"/>
<rect x="248.9" y="13.99" width="9" height="9" fill="#ff0c6c"/>
<rect x="268.3" y="11.89" width="9" height="9" fill="#ff0c6c"/>
<rect x="288.5" y="10.51" width="9" height="9" fill="#ff0c6c"/>
<rect x="307.9" y="9.6" width="9" height="9" fill="#ff0c6c"/>
<rect x="327.5" y="8.91" width="9" height="9" fill="#ff0c6c"/>
</g>
<text x="38.8" y="232.9" text-anchor="end" font-size="11.8" letter-spacing="1.2" stroke="#000" stroke-width="0.2">-80</text>
<text x="38.8" y="205.01" text-anchor="end" font-size="11.8" letter-spacing="1.2" stroke="#000" stroke-width="0.2">-60</text>
<text x="38.8" y="177.12" text-anchor="end" font-size="11.8" letter-spacing="1.2" stroke="#000" stroke-width="0.2">-40</text>
<text x="38.8" y="149.24" text-anchor="end" font-size="11.8" letter-spacing="1.2" stroke="#000" stroke-width="0.2">-20</text>
<text x="38.8" y="121.35" text-anchor="end" font-size="11.8" letter-spacing="1.2" stroke="#000" stroke-width="0.2">0</text>
<text x="38.8" y="93.46" text-anchor="end" font-size="11.8" letter-spacing="1.2" stroke="#000" stroke-width="0.2">20</text>
<text x="38.8" y="65.57" text-anchor="end" font-size="11.8" letter-spacing="1.2" stroke="#000" stroke-width="0.2">40</text>
<text x="38.8" y="37.69" text-anchor="end" font-size="11.8" letter-spacing="1.2" stroke="#000" stroke-width="0.2">60</text>
<text x="38.8" y="9.8" text-anchor="end" font-size="11.8" letter-spacing="1.2" stroke="#000" stroke-width="0.2">80</text>
<text x="45.6" y="244.8" text-anchor="middle" font-size="11.6" letter-spacing="1.2" stroke="#000" stroke-width="0.3">-   0<tspan font-size="8" dy="-6.4">4</tspan></text>
<text x="120" y="244.8" text-anchor="middle" font-size="11.6" letter-spacing="1.2" stroke="#000" stroke-width="0.3">-5000</text>
<text x="192.6" y="244.8" text-anchor="middle" font-size="11.6" letter-spacing="1.2" stroke="#000" stroke-width="0.3">0</text>
<text x="267.5" y="244.8" text-anchor="middle" font-size="11.6" letter-spacing="1.2" stroke="#000" stroke-width="0.3">5000</text>
<text x="342.6" y="244.8" text-anchor="middle" font-size="11.6" letter-spacing="1.2" stroke="#000" stroke-width="0.3">   0<tspan font-size="8" dy="-6.4">4</tspan></text>
<text x="132.54" y="265.7" font-size="11.4" font-weight="bold" letter-spacing="1.1">Magnetic field (Oe)</text>
<text transform="translate(10.2,176.18) rotate(-90)" font-size="11.6" font-weight="bold" letter-spacing="0.15">Magnetization (emu/g)</text>
<text x="59.6" y="36.6" font-family="Liberation Serif" style="font-family:'Liberation Serif',serif" font-size="17.5" font-weight="bold" letter-spacing="0.8">(a)</text>
<path d="M250 135.5H298" stroke="#dc6890" stroke-width="1.4"/>
<rect x="269.1" y="131.5" width="9.6" height="8" fill="#dc6890"/><rect x="270.4" y="132.7" width="7" height="5.6" rx="2.6" fill="#fff"/>
<text x="302" y="140.8" font-size="14.3" font-weight="bold" fill="#e07d9c" letter-spacing="2.1">M </text>
<path d="M250 152H298" stroke="#6c16dc" stroke-width="2.2"/>
<path d="M273.8 148.05L278.5 155.95L269.1 155.95Z" fill="#6c16dc"/>
<text x="302" y="157.3" font-size="14.3" font-weight="bold" fill="#6a1ed0" letter-spacing="2.1">M2</text>
<path d="M250 168.5H298" stroke="#dc52be" stroke-width="1.8"/>
<ellipse cx="273.9" cy="168.5" rx="4.6" ry="4.0" fill="#dc52be"/>
<text x="302" y="173.8" font-size="14.3" font-weight="bold" fill="#d659b8" letter-spacing="2.1">M3</text>
<path d="M250 185H298" stroke="#9cbe2e" stroke-width="1.8"/>
<path d="M273.8 180.5L278.8 185L273.8 189.5L268.8 185Z" fill="#9cbe2e"/>
<text x="302" y="190.3" font-size="14.3" font-weight="bold" fill="#9aba34" letter-spacing="2.1">M4</text>
<path d="M250 201.5H298" stroke="#000000" stroke-width="1.8"/>
<path d="M273.8 205.45L278.5 197.55L269.1 197.55Z" fill="#000000"/>
<text x="302" y="206.8" font-size="14.3" font-weight="bold" fill="#000000" letter-spacing="2.1">M5</text>
<path d="M250 218H298" stroke="#ff0c6c" stroke-width="2.0"/>
<rect x="269.2" y="214.2" width="9.2" height="7.6" fill="#ff0c6c"/>
<text x="302" y="223.3" font-size="14.3" font-weight="bold" fill="#f0186a" letter-spacing="2.1">M6</text>
<rect x="46.3" y="300.5" width="292.3" height="223" fill="none" stroke="#000" stroke-width="1.3"/>
<path d="M46.3 523.5h7M338.6 523.5h-7M46.3 514.21h3.5M338.6 514.21h-3.5M46.3 504.92h3.5M338.6 504.92h-3.5M46.3 495.62h3.5M338.6 495.62h-3.5M46.3 486.33h7M338.6 486.33h-7M46.3 477.04h3.5M338.6 477.04h-3.5M46.3 467.75h3.5M338.6 467.75h-3.5M46.3 458.46h3.5M338.6 458.46h-3.5M46.3 449.17h7M338.6 449.17h-7M46.3 439.88h3.5M338.6 439.88h-3.5M46.3 430.58h3.5M338.6 430.58h-3.5M46.3 421.29h3.5M338.6 421.29h-3.5M46.3 412h7M338.6 412h-7M46.3 402.71h3.5M338.6 402.71h-3.5M46.3 393.42h3.5M338.6 393.42h-3.5M46.3 384.12h3.5M338.6 384.12h-3.5M46.3 374.83h7M338.6 374.83h-7M46.3 365.54h3.5M338.6 365.54h-3.5M46.3 356.25h3.5M338.6 356.25h-3.5M46.3 346.96h3.5M338.6 346.96h-3.5M46.3 337.67h7M338.6 337.67h-7M46.3 328.38h3.5M338.6 328.38h-3.5M46.3 319.08h3.5M338.6 319.08h-3.5M46.3 309.79h3.5M338.6 309.79h-3.5M46.3 300.5h7M338.6 300.5h-7M46.3 523.5v-7M46.3 300.5v7M53.61 523.5v-3.5M53.61 300.5v3.5M60.92 523.5v-3.5M60.92 300.5v3.5M68.22 523.5v-3.5M68.22 300.5v3.5M75.53 523.5v-3.5M75.53 300.5v3.5M82.84 523.5v-7M82.84 300.5v7M90.15 523.5v-3.5M90.15 300.5v3.5M97.45 523.5v-3.5M97.45 300.5v3.5M104.76 523.5v-3.5M104.76 300.5v3.5M112.07 523.5v-3.5M112.07 300.5v3.5M119.38 523.5v-7M119.38 300.5v7M126.68 523.5v-3.5M126.68 300.5v3.5M133.99 523.5v-3.5M133.99 300.5v3.5M141.3 523.5v-3.5M141.3 300.5v3.5M148.61 523.5v-3.5M148.61 300.5v3.5M155.91 523.5v-7M155.91 300.5v7M163.22 523.5v-3.5M163.22 300.5v3.5M170.53 523.5v-3.5M170.53 300.5v3.5M177.84 523.5v-3.5M177.84 300.5v3.5M185.14 523.5v-3.5M185.14 300.5v3.5M192.45 523.5v-7M192.45 300.5v7M199.76 523.5v-3.5M199.76 300.5v3.5M207.07 523.5v-3.5M207.07 300.5v3.5M214.37 523.5v-3.5M214.37 300.5v3.5M221.68 523.5v-3.5M221.68 300.5v3.5M228.99 523.5v-7M228.99 300.5v7M236.3 523.5v-3.5M236.3 300.5v3.5M243.6 523.5v-3.5M243.6 300.5v3.5M250.91 523.5v-3.5M250.91 300.5v3.5M258.22 523.5v-3.5M258.22 300.5v3.5M265.53 523.5v-7M265.53 300.5v7M272.83 523.5v-3.5M272.83 300.5v3.5M280.14 523.5v-3.5M280.14 300.5v3.5M287.45 523.5v-3.5M287.45 300.5v3.5M294.75 523.5v-3.5M294.75 300.5v3.5M302.06 523.5v-7M302.06 300.5v7M309.37 523.5v-3.5M309.37 300.5v3.5M316.68 523.5v-3.5M316.68 300.5v3.5M323.99 523.5v-3.5M323.99 300.5v3.5M331.29 523.5v-3.5M331.29 300.5v3.5M338.6 523.5v-7M338.6 300.5v7" stroke="#000" stroke-width="1.4" fill="none"/>
<g clip-path="url(#cb)" fill="none" stroke-width="1.8">
<polyline points="46.3,494.32 47.03,494.29 47.77,494.26 48.5,494.23 49.23,494.2 49.96,494.17 50.7,494.14 51.43,494.1 52.16,494.07 52.89,494.04 53.63,494.01 54.36,493.98 55.09,493.94 55.82,493.91 56.56,493.88 57.29,493.85 58.02,493.81 58.75,493.78 59.49,493.74 60.22,493.71 60.95,493.68 61.68,493.64 62.42,493.61 63.15,493.57 63.88,493.54 64.61,493.5 65.35,493.47 66.08,493.43 66.81,493.4 67.54,493.36 68.28,493.32 69.01,493.29 69.74,493.25 70.48,493.21 71.21,493.18 71.94,493.14 72.67,493.1 73.41,493.06 74.14,493.02 74.87,492.98 75.6,492.95 76.34,492.91 77.07,492.87 77.8,492.83 78.53,492.79 79.27,492.75 80,492.7 80.73,492.66 81.46,492.62 82.2,492.58 82.93,492.54 83.66,492.49 84.39,492.45 85.13,492.41 85.86,492.36 86.59,492.32 87.32,492.28 88.06,492.23 88.79,492.19 89.52,492.14 90.25,492.09 90.99,492.05 91.72,492 92.45,491.95 93.19,491.9 93.92,491.85 94.65,491.81 95.38,491.76 96.12,491.71 96.85,491.66 97.58,491.6 98.31,491.55 99.05,491.5 99.78,491.45 100.51,491.39 101.24,491.34 101.98,491.29 102.71,491.23 103.44,491.17 104.17,491.12 104.91,491.06 105.64,491 106.37,490.94 107.1,490.89 107.84,490.83 108.57,490.76 109.3,490.7 110.03,490.64 110.77,490.58 111.5,490.51 112.23,490.45 112.96,490.38 113.7,490.32 114.43,490.25 115.16,490.18 115.9,490.11 116.63,490.04 117.36,489.97 118.09,489.9 118.83,489.82 119.56,489.75 120.29,489.67 121.02,489.59 121.76,489.52 122.49,489.44 123.22,489.36 123.95,489.27 124.69,489.19 125.42,489.11 126.15,489.02 126.88,488.93 127.62,488.84 128.35,488.75 129.08,488.66 129.81,488.56 130.55,488.47 131.28,488.37 132.01,488.27 132.74,488.17 133.48,488.06 134.21,487.96 134.94,487.85 135.67,487.74 136.41,487.63 137.14,487.51 137.87,487.4 138.61,487.28 139.34,487.16 140.07,487.03 140.8,486.9 141.54,486.77 142.27,486.64 143,486.5 143.73,486.36 144.47,486.22 145.2,486.07 145.93,485.92 146.66,485.77 147.4,485.61 148.13,485.45 148.86,485.28 149.59,485.11 150.33,484.94 151.06,484.76 151.79,484.57 152.52,484.38 153.26,484.18 153.99,483.98 154.72,483.77 155.45,483.56 156.19,483.34 156.92,483.11 157.65,482.88 158.38,482.64 159.12,482.39 159.85,482.13 160.58,481.87 161.32,481.59 162.05,481.31 162.78,481.01 163.51,480.71 164.25,480.39 164.98,480.07 165.71,479.73 166.44,479.38 167.18,479.02 167.91,478.64 168.64,478.25 169.37,477.84 170.11,477.42 170.84,476.98 171.57,476.53 172.3,476.05 173.04,475.56 173.77,475.05 174.5,474.52 175.23,473.96 175.97,473.39 176.7,472.79 177.43,472.17 178.16,471.52 178.9,470.85 179.63,470.15 180.05,469.74 180.11,469.68 180.17,469.62 180.23,469.56 180.29,469.5 180.35,469.44 180.36,469.43 180.41,469.38 180.47,469.32 180.53,469.26 180.59,469.2 180.65,469.14 180.71,469.08 180.77,469.01 180.83,468.95 180.89,468.89 180.95,468.83 181.01,468.77 181.07,468.7 181.09,468.68 181.13,468.64 181.19,468.58 181.25,468.52 181.31,468.45 181.37,468.39 181.43,468.33 181.49,468.26 181.55,468.2 181.61,468.13 181.67,468.07 181.73,468.01 181.79,467.94 181.83,467.9 181.85,467.88 181.91,467.81 181.97,467.75 182.03,467.68 182.09,467.61 182.15,467.55 182.21,467.48 182.27,467.42 182.33,467.35 182.39,467.28 182.45,467.22 182.52,467.15 182.56,467.1 182.58,467.08 182.64,467.02 182.7,466.95 182.76,466.88 182.82,466.81 182.88,466.75 182.94,466.68 183,466.61 183.06,466.54 183.12,466.47 183.18,466.4 183.24,466.33 183.29,466.27 183.3,466.27 183.36,466.2 183.42,466.13 183.48,466.06 183.54,465.99 183.6,465.92 183.66,465.85 183.72,465.78 183.78,465.71 183.84,465.63 183.9,465.56 183.96,465.49 184.02,465.42 184.03,465.41 184.08,465.35 184.14,465.28 184.2,465.2 184.26,465.13 184.32,465.06 184.38,464.99 184.44,464.91 184.5,464.84 184.56,464.77 184.62,464.69 184.68,464.62 184.74,464.55 184.76,464.52 184.8,464.47 184.86,464.4 184.92,464.32 184.98,464.25 185.04,464.17 185.1,464.1 185.16,464.02 185.22,463.94 185.28,463.87 185.34,463.79 185.4,463.71 185.46,463.64 185.49,463.6 185.52,463.56 185.58,463.48 185.64,463.4 185.7,463.32 185.76,463.24 185.82,463.16 185.88,463.08 185.94,463 186,462.92 186.06,462.84 186.12,462.76 186.18,462.68 186.22,462.62 186.24,462.59 186.3,462.51 186.36,462.43 186.42,462.34 186.49,462.26 186.55,462.17 186.61,462.08 186.67,461.99 186.73,461.91 186.79,461.82 186.85,461.73 186.91,461.63 186.96,461.56 186.97,461.54 187.03,461.45 187.09,461.35 187.15,461.26 187.21,461.16 187.27,461.06 187.33,460.96 187.39,460.86 187.45,460.75 187.51,460.64 187.57,460.54 187.63,460.43 187.69,460.31 187.69,460.31 187.75,460.2 187.81,460.08 187.87,459.96 187.93,459.83 187.99,459.71 188.05,459.58 188.11,459.44 188.17,459.3 188.23,459.16 188.29,459.01 188.35,458.86 188.41,458.7 188.42,458.67 188.47,458.54 188.53,458.37 188.59,458.19 188.65,458.01 188.71,457.82 188.77,457.63 188.83,457.42 188.89,457.21 188.95,456.98 189.01,456.75 189.07,456.5 189.13,456.25 189.15,456.15 189.19,455.98 189.25,455.7 189.31,455.4 189.37,455.09 189.43,454.77 189.49,454.43 189.55,454.07 189.61,453.69 189.67,453.3 189.73,452.88 189.79,452.44 189.85,451.98 189.89,451.72 189.91,451.49 189.97,450.98 190.03,450.45 190.09,449.88 190.15,449.29 190.21,448.66 190.27,448.01 190.33,447.32 190.39,446.59 190.45,445.83 190.52,445.04 190.58,444.2 190.62,443.58 190.64,443.33 190.7,442.42 190.76,441.47 190.82,440.47 190.88,439.44 190.94,438.36 191,437.24 191.06,436.08 191.12,434.88 191.18,433.64 191.24,432.35 191.3,431.03 191.35,429.81 191.36,429.67 191.42,428.27 191.48,426.84 191.54,425.38 191.6,423.89 191.66,422.37 191.72,420.83 191.78,419.27 191.84,417.69 191.9,416.1 191.96,414.5 192.02,412.89 192.08,411.48 192.08,411.38 192.14,410.26 192.2,409.04 192.26,407.82 192.32,406.61 192.38,405.41 192.44,404.21 192.5,403.03 192.56,401.85 192.62,400.69 192.68,399.53 192.74,398.4 192.8,397.27 192.82,396.99 192.86,396.16 192.92,395.07 192.98,394 193.04,392.95 193.1,391.91 193.16,390.9 193.22,389.9 193.28,388.93 193.34,387.97 193.4,387.04 193.46,386.13 193.52,385.24 193.55,384.86 193.58,384.38 193.64,383.54 193.7,382.71 193.76,381.91 193.82,381.14 193.88,380.38 193.94,379.65 194,378.94 194.06,378.25 194.12,377.58 194.18,376.93 194.24,376.3 194.28,375.93 194.3,375.7 194.36,375.11 194.42,374.54 194.49,373.99 194.55,373.46 194.61,372.94 194.67,372.45 194.73,371.97 194.79,371.5 194.85,371.05 194.91,370.62 194.97,370.2 195.01,369.88 195.03,369.8 195.09,369.41 195.15,369.04 195.21,368.68 195.27,368.33 195.33,367.99 195.39,367.66 195.45,367.35 195.51,367.05 195.57,366.75 195.63,366.47 195.69,366.2 195.75,365.94 195.75,365.93 195.81,365.68 195.87,365.43 195.93,365.2 195.99,364.97 196.05,364.74 196.11,364.53 196.17,364.32 196.23,364.12 196.29,363.92 196.35,363.73 196.41,363.55 196.47,363.37 196.48,363.35 196.53,363.2 196.59,363.04 196.65,362.87 196.71,362.72 196.77,362.56 196.83,362.41 196.89,362.27 196.95,362.13 197.01,361.99 197.07,361.86 197.13,361.73 197.19,361.6 197.21,361.56 197.25,361.48 197.31,361.36 197.37,361.24 197.43,361.13 197.49,361.01 197.55,360.9 197.61,360.8 197.67,360.69 197.73,360.59 197.79,360.49 197.85,360.39 197.91,360.29 197.94,360.24 197.97,360.19 198.03,360.1 198.09,360.01 198.15,359.92 198.21,359.83 198.27,359.74 198.33,359.66 198.39,359.57 198.45,359.49 198.52,359.4 198.58,359.32 198.64,359.24 198.68,359.19 198.7,359.16 198.76,359.09 198.82,359.01 198.88,358.93 198.94,358.86 199,358.78 199.06,358.71 199.12,358.63 199.18,358.56 199.24,358.49 199.3,358.42 199.36,358.35 199.41,358.29 199.42,358.28 199.48,358.21 199.54,358.14 199.6,358.07 199.66,358.01 199.72,357.94 199.78,357.87 199.84,357.81 199.9,357.74 199.96,357.68 200.02,357.61 200.08,357.55 200.14,357.48 200.14,357.48 200.2,357.42 200.26,357.36 200.32,357.3 200.38,357.23 200.44,357.17 200.5,357.11 200.56,357.05 200.62,356.99 200.68,356.93 200.74,356.87 200.8,356.81 200.86,356.75 200.87,356.73 200.92,356.69 200.98,356.63 201.04,356.57 201.1,356.51 201.16,356.45 201.22,356.39 201.28,356.33 201.34,356.27 201.4,356.22 201.46,356.16 201.52,356.1 201.58,356.04 201.61,356.02 201.64,355.99 201.7,355.93 201.76,355.87 201.82,355.82 201.88,355.76 201.94,355.7 202,355.65 202.06,355.59 202.12,355.54 202.18,355.48 202.24,355.43 202.3,355.37 202.34,355.34 202.36,355.32 202.42,355.26 202.49,355.21 202.55,355.15 202.61,355.1 202.67,355.04 202.73,354.99 202.79,354.93 202.85,354.88 202.91,354.83 202.97,354.77 203.03,354.72 203.07,354.68 203.09,354.67 203.15,354.61 203.21,354.56 203.27,354.51 203.33,354.46 203.39,354.4 203.45,354.35 203.51,354.3 203.57,354.25 203.63,354.19 203.69,354.14 203.75,354.09 203.81,354.04 203.81,354.04 203.87,353.99 203.93,353.94 203.99,353.88 204.05,353.83 204.54,353.42 205.27,352.82 206,352.24 206.74,351.67 207.47,351.13 208.2,350.6 208.93,350.08 209.67,349.58 210.4,349.1 211.13,348.63 211.86,348.18 212.6,347.74 213.33,347.32 214.06,346.91 214.79,346.51 215.53,346.12 216.26,345.75 216.99,345.39 217.72,345.04 218.46,344.7 219.19,344.38 219.92,344.06 220.65,343.75 221.39,343.45 222.12,343.16 222.85,342.88 223.58,342.61 224.32,342.34 225.05,342.09 225.78,341.84 226.52,341.6 227.25,341.36 227.98,341.13 228.71,340.91 229.45,340.69 230.18,340.48 230.91,340.28 231.64,340.08 232.38,339.88 233.11,339.69 233.84,339.51 234.57,339.33 235.31,339.15 236.04,338.98 236.77,338.81 237.5,338.65 238.24,338.49 238.97,338.33 239.7,338.18 240.43,338.03 241.17,337.89 241.9,337.75 242.63,337.61 243.36,337.47 244.1,337.34 244.83,337.21 245.56,337.08 246.29,336.96 247.03,336.83 247.76,336.71 248.49,336.6 249.23,336.48 249.96,336.37 250.69,336.26 251.42,336.15 252.16,336.04 252.89,335.94 253.62,335.83 254.35,335.73 255.09,335.63 255.82,335.54 256.55,335.44 257.28,335.35 258.02,335.25 258.75,335.16 259.48,335.07 260.21,334.98 260.95,334.9 261.68,334.81 262.41,334.73 263.14,334.65 263.88,334.56 264.61,334.48 265.34,334.41 266.07,334.33 266.81,334.25 267.54,334.18 268.27,334.1 269,334.03 269.74,333.96 270.47,333.88 271.2,333.81 271.94,333.74 272.67,333.68 273.4,333.61 274.13,333.54 274.87,333.48 275.6,333.41 276.33,333.35 277.06,333.28 277.8,333.22 278.53,333.16 279.26,333.1 279.99,333.04 280.73,332.98 281.46,332.92 282.19,332.86 282.92,332.8 283.66,332.75 284.39,332.69 285.12,332.64 285.85,332.58 286.59,332.53 287.32,332.47 288.05,332.42 288.78,332.37 289.52,332.31 290.25,332.26 290.98,332.21 291.71,332.16 292.45,332.11 293.18,332.06 293.91,332.01 294.65,331.96 295.38,331.91 296.11,331.87 296.84,331.82 297.58,331.77 298.31,331.73 299.04,331.68 299.77,331.63 300.51,331.59 301.24,331.54 301.97,331.5 302.7,331.46 303.44,331.41 304.17,331.37 304.9,331.33 305.63,331.28 306.37,331.24 307.1,331.2 307.83,331.16 308.56,331.12 309.3,331.08 310.03,331.03 310.76,330.99 311.49,330.95 312.23,330.91 312.96,330.88 313.69,330.84 314.42,330.8 315.16,330.76 315.89,330.72 316.62,330.68 317.36,330.65 318.09,330.61 318.82,330.57 319.55,330.53 320.29,330.5 321.02,330.46 321.75,330.42 322.48,330.39 323.22,330.35 323.95,330.32 324.68,330.28 325.41,330.25 326.15,330.21 326.88,330.18 327.61,330.14 328.34,330.11 329.08,330.07 329.81,330.04 330.54,330.01 331.27,329.97 332.01,329.94 332.74,329.91 333.47,329.87 334.2,329.84 334.94,329.81 335.67,329.78 336.4,329.74 337.13,329.71 337.87,329.68 338.6,329.65" stroke="#e40c12"/>
<polyline points="46.3,508.6 47.03,508.55 47.77,508.51 48.5,508.47 49.23,508.43 49.96,508.38 50.7,508.34 51.43,508.3 52.16,508.25 52.89,508.21 53.63,508.17 54.36,508.12 55.09,508.08 55.82,508.03 56.56,507.99 57.29,507.94 58.02,507.9 58.75,507.85 59.49,507.8 60.22,507.76 60.95,507.71 61.68,507.66 62.42,507.62 63.15,507.57 63.88,507.52 64.61,507.47 65.35,507.42 66.08,507.38 66.81,507.33 67.54,507.28 68.28,507.23 69.01,507.18 69.74,507.13 70.48,507.08 71.21,507.03 71.94,506.97 72.67,506.92 73.41,506.87 74.14,506.82 74.87,506.77 75.6,506.71 76.34,506.66 77.07,506.61 77.8,506.55 78.53,506.5 79.27,506.44 80,506.39 80.73,506.33 81.46,506.27 82.2,506.22 82.93,506.16 83.66,506.1 84.39,506.04 85.13,505.98 85.86,505.92 86.59,505.86 87.32,505.8 88.06,505.74 88.79,505.68 89.52,505.62 90.25,505.56 90.99,505.49 91.72,505.43 92.45,505.36 93.19,505.3 93.92,505.23 94.65,505.17 95.38,505.1 96.12,505.03 96.85,504.96 97.58,504.9 98.31,504.83 99.05,504.76 99.78,504.68 100.51,504.61 101.24,504.54 101.98,504.47 102.71,504.39 103.44,504.32 104.17,504.24 104.91,504.16 105.64,504.08 106.37,504.01 107.1,503.93 107.84,503.85 108.57,503.76 109.3,503.68 110.03,503.6 110.77,503.51 111.5,503.42 112.23,503.34 112.96,503.25 113.7,503.16 114.43,503.07 115.16,502.98 115.9,502.88 116.63,502.79 117.36,502.69 118.09,502.59 118.83,502.49 119.56,502.39 120.29,502.29 121.02,502.19 121.76,502.08 122.49,501.97 123.22,501.86 123.95,501.75 124.69,501.64 125.42,501.53 126.15,501.41 126.88,501.29 127.62,501.17 128.35,501.05 129.08,500.92 129.81,500.79 130.55,500.66 131.28,500.53 132.01,500.4 132.74,500.26 133.48,500.12 134.21,499.97 134.94,499.83 135.67,499.68 136.41,499.52 137.14,499.37 137.87,499.21 138.61,499.04 139.34,498.88 140.07,498.71 140.8,498.53 141.54,498.35 142.27,498.17 143,497.98 143.73,497.79 144.47,497.59 145.2,497.39 145.93,497.18 146.66,496.97 147.4,496.75 148.13,496.52 148.86,496.29 149.59,496.05 150.33,495.8 151.06,495.55 151.79,495.29 152.52,495.02 153.26,494.74 153.99,494.45 154.72,494.16 155.45,493.85 156.19,493.53 156.92,493.2 157.65,492.86 158.38,492.51 159.12,492.15 159.85,491.77 160.58,491.38 161.32,490.97 162.05,490.54 162.78,490.1 163.51,489.64 164.25,489.16 164.98,488.65 165.71,488.13 166.44,487.58 167.18,487.01 167.91,486.41 168.64,485.78 169.37,485.12 170.11,484.42 170.84,483.69 171.57,482.92 172.3,482.11 173.04,481.25 173.77,480.35 174.5,479.39 175.23,478.38 175.97,477.3 176.7,476.17 177.43,474.96 178.16,473.67 178.9,472.3 179.63,470.84 180.36,469.29 180.43,469.14 180.49,469.01 180.55,468.87 180.61,468.74 180.67,468.6 180.73,468.47 180.79,468.33 180.85,468.19 180.91,468.05 180.97,467.92 181.03,467.78 181.09,467.64 181.09,467.63 181.15,467.49 181.21,467.35 181.27,467.21 181.33,467.07 181.39,466.92 181.45,466.78 181.51,466.63 181.57,466.49 181.63,466.34 181.69,466.19 181.75,466.04 181.81,465.89 181.83,465.86 181.87,465.74 181.93,465.59 181.99,465.44 182.05,465.28 182.11,465.13 182.17,464.97 182.24,464.82 182.3,464.66 182.36,464.51 182.42,464.35 182.48,464.19 182.54,464.03 182.56,463.96 182.6,463.87 182.66,463.7 182.72,463.54 182.78,463.38 182.84,463.21 182.9,463.05 182.96,462.88 183.02,462.71 183.08,462.55 183.14,462.38 183.2,462.21 183.26,462.03 183.29,461.93 183.32,461.86 183.38,461.69 183.44,461.51 183.5,461.34 183.56,461.16 183.62,460.99 183.68,460.81 183.74,460.63 183.8,460.45 183.86,460.27 183.92,460.08 183.98,459.9 184.03,459.76 184.04,459.71 184.1,459.53 184.16,459.34 184.22,459.15 184.28,458.96 184.34,458.77 184.4,458.58 184.46,458.39 184.52,458.2 184.58,458 184.64,457.81 184.7,457.61 184.76,457.42 184.76,457.41 184.82,457.21 184.88,457.01 184.94,456.81 185,456.6 185.06,456.4 185.12,456.19 185.18,455.98 185.24,455.77 185.3,455.56 185.36,455.35 185.42,455.14 185.48,454.92 185.49,454.9 185.54,454.71 185.6,454.49 185.66,454.27 185.72,454.05 185.78,453.83 185.84,453.61 185.9,453.38 185.96,453.16 186.02,452.93 186.08,452.7 186.14,452.47 186.2,452.23 186.22,452.16 186.27,452 186.33,451.76 186.39,451.52 186.45,451.28 186.51,451.04 186.57,450.8 186.63,450.55 186.69,450.31 186.75,450.06 186.81,449.81 186.87,449.55 186.93,449.3 186.96,449.18 186.99,449.04 187.05,448.78 187.11,448.52 187.17,448.26 187.23,447.99 187.29,447.72 187.35,447.45 187.41,447.18 187.47,446.91 187.53,446.63 187.59,446.35 187.65,446.07 187.69,445.88 187.71,445.78 187.77,445.49 187.83,445.2 187.89,444.91 187.95,444.62 188.01,444.32 188.07,444.02 188.13,443.71 188.19,443.41 188.25,443.1 188.31,442.78 188.37,442.47 188.42,442.2 188.43,442.15 188.49,441.82 188.55,441.5 188.61,441.17 188.67,440.84 188.73,440.5 188.79,440.16 188.85,439.82 188.91,439.47 188.97,439.12 189.03,438.76 189.09,438.41 189.15,438.04 189.15,438.04 189.21,437.68 189.27,437.31 189.33,436.93 189.39,436.55 189.45,436.17 189.51,435.78 189.57,435.39 189.63,435 189.69,434.6 189.75,434.19 189.81,433.79 189.87,433.37 189.89,433.29 189.93,432.96 189.99,432.53 190.05,432.11 190.11,431.68 190.17,431.24 190.24,430.8 190.3,430.35 190.36,429.9 190.42,429.45 190.48,428.99 190.54,428.53 190.6,428.06 190.62,427.88 190.66,427.59 190.72,427.11 190.78,426.63 190.84,426.15 190.9,425.66 190.96,425.16 191.02,424.66 191.08,424.16 191.14,423.66 191.2,423.15 191.26,422.63 191.32,422.12 191.35,421.83 191.38,421.6 191.44,421.07 191.5,420.55 191.56,420.02 191.62,419.48 191.68,418.95 191.74,418.41 191.8,417.87 191.86,417.33 191.92,416.78 191.98,416.23 192.04,415.69 192.08,415.28 192.1,415.14 192.16,414.59 192.22,414.03 192.28,413.48 192.34,412.93 192.4,412.37 192.46,411.75 192.52,411.05 192.58,410.35 192.64,409.65 192.7,408.95 192.76,408.25 192.82,407.62 192.82,407.56 192.88,406.87 192.94,406.18 193,405.5 193.06,404.82 193.12,404.15 193.18,403.48 193.24,402.82 193.3,402.16 193.36,401.51 193.42,400.87 193.48,400.23 193.54,399.6 193.55,399.55 193.6,398.98 193.66,398.37 193.72,397.76 193.78,397.16 193.84,396.57 193.9,395.98 193.96,395.41 194.02,394.84 194.08,394.29 194.14,393.74 194.2,393.2 194.27,392.66 194.28,392.52 194.33,392.14 194.39,391.63 194.45,391.12 194.51,390.63 194.57,390.14 194.63,389.66 194.69,389.19 194.75,388.72 194.81,388.27 194.87,387.82 194.93,387.38 194.99,386.95 195.01,386.76 195.05,386.53 195.11,386.12 195.17,385.71 195.23,385.31 195.29,384.92 195.35,384.53 195.41,384.15 195.47,383.78 195.53,383.42 195.59,383.06 195.65,382.71 195.71,382.36 195.75,382.15 195.77,382.02 195.83,381.69 195.89,381.36 195.95,381.04 196.01,380.72 196.07,380.41 196.13,380.11 196.19,379.81 196.25,379.51 196.31,379.22 196.37,378.93 196.43,378.65 196.48,378.42 196.49,378.37 196.55,378.1 196.61,377.83 196.67,377.56 196.73,377.3 196.79,377.04 196.85,376.79 196.91,376.54 196.97,376.29 197.03,376.05 197.09,375.8 197.15,375.57 197.21,375.33 197.21,375.33 197.27,375.1 197.33,374.87 197.39,374.64 197.45,374.42 197.51,374.2 197.57,373.98 197.63,373.76 197.69,373.55 197.75,373.33 197.81,373.12 197.87,372.92 197.93,372.71 197.94,372.68 197.99,372.51 198.05,372.3 198.11,372.1 198.17,371.91 198.24,371.71 198.3,371.51 198.36,371.32 198.42,371.13 198.48,370.94 198.54,370.75 198.6,370.56 198.66,370.38 198.68,370.31 198.72,370.19 198.78,370.01 198.84,369.83 198.9,369.65 198.96,369.47 199.02,369.29 199.08,369.12 199.14,368.94 199.2,368.77 199.26,368.59 199.32,368.42 199.38,368.25 199.41,368.16 199.44,368.08 199.5,367.91 199.56,367.74 199.62,367.57 199.68,367.41 199.74,367.24 199.8,367.08 199.86,366.92 199.92,366.75 199.98,366.59 200.04,366.43 200.1,366.27 200.14,366.16 200.16,366.11 200.22,365.95 200.28,365.79 200.34,365.64 200.4,365.48 200.46,365.33 200.52,365.17 200.58,365.02 200.64,364.86 200.7,364.71 200.76,364.56 200.82,364.41 200.87,364.27 200.88,364.26 200.94,364.11 201,363.96 201.06,363.81 201.12,363.66 201.18,363.51 201.24,363.37 201.3,363.22 201.36,363.08 201.42,362.93 201.48,362.79 201.54,362.64 201.6,362.5 201.61,362.49 201.66,362.36 201.72,362.22 201.78,362.08 201.84,361.93 201.9,361.79 201.96,361.65 202.02,361.52 202.08,361.38 202.14,361.24 202.2,361.1 202.27,360.97 202.33,360.83 202.34,360.8 202.39,360.69 202.45,360.56 202.51,360.42 202.57,360.29 202.63,360.16 202.69,360.02 202.75,359.89 202.81,359.76 202.87,359.63 202.93,359.49 202.99,359.36 203.05,359.23 203.07,359.18 203.11,359.1 203.17,358.98 203.23,358.85 203.29,358.72 203.35,358.59 203.41,358.46 203.47,358.34 203.53,358.21 203.59,358.09 203.65,357.96 203.71,357.84 203.77,357.71 203.81,357.64 203.83,357.59 203.89,357.46 203.95,357.34 204.01,357.22 204.07,357.1 204.13,356.98 204.19,356.85 204.25,356.73 204.31,356.61 204.37,356.49 204.43,356.37 204.54,356.16 205.27,354.76 206,353.41 206.74,352.13 207.47,350.91 208.2,349.74 208.93,348.63 209.67,347.56 210.4,346.55 211.13,345.57 211.86,344.65 212.6,343.76 213.33,342.91 214.06,342.1 214.79,341.33 215.53,340.58 216.26,339.87 216.99,339.19 217.72,338.53 218.46,337.91 219.19,337.3 219.92,336.73 220.65,336.17 221.39,335.63 222.12,335.12 222.85,334.62 223.58,334.15 224.32,333.69 225.05,333.24 225.78,332.81 226.52,332.4 227.25,332 227.98,331.62 228.71,331.24 229.45,330.88 230.18,330.53 230.91,330.2 231.64,329.87 232.38,329.55 233.11,329.25 233.84,328.95 234.57,328.66 235.31,328.38 236.04,328.11 236.77,327.84 237.5,327.58 238.24,327.33 238.97,327.09 239.7,326.85 240.43,326.62 241.17,326.4 241.9,326.18 242.63,325.97 243.36,325.76 244.1,325.56 244.83,325.36 245.56,325.17 246.29,324.98 247.03,324.8 247.76,324.62 248.49,324.44 249.23,324.27 249.96,324.11 250.69,323.94 251.42,323.78 252.16,323.63 252.89,323.47 253.62,323.32 254.35,323.18 255.09,323.04 255.82,322.9 256.55,322.76 257.28,322.62 258.02,322.49 258.75,322.36 259.48,322.24 260.21,322.11 260.95,321.99 261.68,321.87 262.41,321.75 263.14,321.64 263.88,321.52 264.61,321.41 265.34,321.3 266.07,321.2 266.81,321.09 267.54,320.99 268.27,320.89 269,320.79 269.74,320.69 270.47,320.59 271.2,320.5 271.94,320.4 272.67,320.31 273.4,320.22 274.13,320.13 274.87,320.05 275.6,319.96 276.33,319.87 277.06,319.79 277.8,319.71 278.53,319.63 279.26,319.55 279.99,319.47 280.73,319.39 281.46,319.32 282.19,319.24 282.92,319.17 283.66,319.09 284.39,319.02 285.12,318.95 285.85,318.88 286.59,318.81 287.32,318.74 288.05,318.68 288.78,318.61 289.52,318.54 290.25,318.48 290.98,318.41 291.71,318.35 292.45,318.29 293.18,318.23 293.91,318.17 294.65,318.11 295.38,318.05 296.11,317.99 296.84,317.93 297.58,317.87 298.31,317.82 299.04,317.76 299.77,317.71 300.51,317.65 301.24,317.6 301.97,317.55 302.7,317.49 303.44,317.44 304.17,317.39 304.9,317.34 305.63,317.29 306.37,317.24 307.1,317.19 307.83,317.14 308.56,317.09 309.3,317.05 310.03,317 310.76,316.95 311.49,316.91 312.23,316.86 312.96,316.81 313.69,316.77 314.42,316.73 315.16,316.68 315.89,316.64 316.62,316.59 317.36,316.55 318.09,316.51 318.82,316.47 319.55,316.43 320.29,316.39 321.02,316.34 321.75,316.3 322.48,316.26 323.22,316.23 323.95,316.19 324.68,316.15 325.41,316.11 326.15,316.07 326.88,316.03 327.61,315.99 328.34,315.96 329.08,315.92 329.81,315.88 330.54,315.85 331.27,315.81 332.01,315.78 332.74,315.74 333.47,315.71 334.2,315.67 334.94,315.64 335.67,315.6 336.4,315.57 337.13,315.53 337.87,315.5 338.6,315.47" stroke="#0c0ce0"/>
</g>
<g>
<circle cx="52.6" cy="494.05" r="3.8" fill="#e40c12"/>
<circle cx="66.6" cy="493.41" r="3.8" fill="#e40c12"/>
<circle cx="79.9" cy="492.71" r="3.8" fill="#e40c12"/>
<circle cx="92.8" cy="491.93" r="3.8" fill="#e40c12"/>
<circle cx="106.5" cy="490.93" r="3.8" fill="#e40c12"/>
<circle cx="120.8" cy="489.62" r="3.8" fill="#e40c12"/>
<circle cx="133.4" cy="488.08" r="3.8" fill="#e40c12"/>
<circle cx="146.9" cy="485.72" r="3.8" fill="#e40c12"/>
<circle cx="160.3" cy="481.97" r="3.8" fill="#e40c12"/>
<circle cx="172.7" cy="475.8" r="3.8" fill="#e40c12"/>
<circle cx="186.1" cy="462.8" r="3.8" fill="#e40c12"/>
<circle cx="189.9" cy="451.6" r="3.8" fill="#e40c12"/>
<circle cx="192.1" cy="411.6" r="3.8" fill="#e40c12"/>
<circle cx="192.1" cy="406.4" r="3.8" fill="#e40c12"/>
<circle cx="195.1" cy="372.4" r="3.8" fill="#e40c12"/>
<circle cx="194.3" cy="367.9" r="3.8" fill="#e40c12"/>
<circle cx="198.9" cy="358.9" r="3.8" fill="#e40c12"/>
<circle cx="211.7" cy="348.3" r="3.8" fill="#e40c12"/>
<circle cx="223.6" cy="342.6" r="3.8" fill="#e40c12"/>
<circle cx="237.9" cy="338.56" r="3.8" fill="#e40c12"/>
<circle cx="251.3" cy="336.17" r="3.8" fill="#e40c12"/>
<circle cx="264.4" cy="334.51" r="3.8" fill="#e40c12"/>
<circle cx="278.2" cy="333.19" r="3.8" fill="#e40c12"/>
<circle cx="291.4" cy="332.18" r="3.8" fill="#e40c12"/>
<circle cx="304.8" cy="331.33" r="3.8" fill="#e40c12"/>
<circle cx="318.4" cy="330.59" r="3.8" fill="#e40c12"/>
<circle cx="331.7" cy="329.95" r="3.8" fill="#e40c12"/>
<rect x="43.6" y="504.84" width="7.4" height="7.4" fill="#0c0ce0"/>
<rect x="45.6" y="504.72" width="7.4" height="7.4" fill="#0c0ce0"/>
<rect x="47.6" y="504.6" width="7.4" height="7.4" fill="#0c0ce0"/>
<rect x="49.6" y="504.48" width="7.4" height="7.4" fill="#0c0ce0"/>
<rect x="51.6" y="504.36" width="7.4" height="7.4" fill="#0c0ce0"/>
<rect x="53.6" y="504.24" width="7.4" height="7.4" fill="#0c0ce0"/>
<rect x="55.6" y="504.12" width="7.4" height="7.4" fill="#0c0ce0"/>
<rect x="57.6" y="503.99" width="7.4" height="7.4" fill="#0c0ce0"/>
<rect x="59.6" y="503.86" width="7.4" height="7.4" fill="#0c0ce0"/>
<rect x="61.6" y="503.73" width="7.4" height="7.4" fill="#0c0ce0"/>
<rect x="63.6" y="503.59" width="7.4" height="7.4" fill="#0c0ce0"/>
<rect x="65.6" y="503.46" width="7.4" height="7.4" fill="#0c0ce0"/>
<rect x="67.6" y="503.32" width="7.4" height="7.4" fill="#0c0ce0"/>
<rect x="69.6" y="503.18" width="7.4" height="7.4" fill="#0c0ce0"/>
<rect x="71.6" y="503.03" width="7.4" height="7.4" fill="#0c0ce0"/>
<rect x="73.6" y="502.89" width="7.4" height="7.4" fill="#0c0ce0"/>
<rect x="75.6" y="502.74" width="7.4" height="7.4" fill="#0c0ce0"/>
<rect x="77.6" y="502.59" width="7.4" height="7.4" fill="#0c0ce0"/>
<rect x="79.6" y="502.43" width="7.4" height="7.4" fill="#0c0ce0"/>
<rect x="81.6" y="502.27" width="7.4" height="7.4" fill="#0c0ce0"/>
<rect x="83.6" y="502.11" width="7.4" height="7.4" fill="#0c0ce0"/>
<rect x="85.6" y="501.94" width="7.4" height="7.4" fill="#0c0ce0"/>
<rect x="87.6" y="501.77" width="7.4" height="7.4" fill="#0c0ce0"/>
<rect x="89.6" y="501.59" width="7.4" height="7.4" fill="#0c0ce0"/>
<rect x="91.6" y="501.41" width="7.4" height="7.4" fill="#0c0ce0"/>
<rect x="93.6" y="501.22" width="7.4" height="7.4" fill="#0c0ce0"/>
<rect x="95.6" y="501.03" width="7.4" height="7.4" fill="#0c0ce0"/>
<rect x="97.6" y="500.83" width="7.4" height="7.4" fill="#0c0ce0"/>
<rect x="99.6" y="500.63" width="7.4" height="7.4" fill="#0c0ce0"/>
<rect x="101.6" y="500.42" width="7.4" height="7.4" fill="#0c0ce0"/>
<rect x="103.6" y="500.2" width="7.4" height="7.4" fill="#0c0ce0"/>
<rect x="105.6" y="499.98" width="7.4" height="7.4" fill="#0c0ce0"/>
<rect x="107.6" y="499.75" width="7.4" height="7.4" fill="#0c0ce0"/>
<rect x="109.6" y="499.51" width="7.4" height="7.4" fill="#0c0ce0"/>
<rect x="111.6" y="499.26" width="7.4" height="7.4" fill="#0c0ce0"/>
<rect x="113.6" y="499" width="7.4" height="7.4" fill="#0c0ce0"/>
<rect x="115.6" y="498.73" width="7.4" height="7.4" fill="#0c0ce0"/>
<rect x="117.6" y="498.45" width="7.4" height="7.4" fill="#0c0ce0"/>
<rect x="119.6" y="498.15" width="7.4" height="7.4" fill="#0c0ce0"/>
<rect x="121.6" y="497.84" width="7.4" height="7.4" fill="#0c0ce0"/>
<rect x="123.6" y="497.52" width="7.4" height="7.4" fill="#0c0ce0"/>
<rect x="125.6" y="497.18" width="7.4" height="7.4" fill="#0c0ce0"/>
<rect x="127.6" y="496.83" width="7.4" height="7.4" fill="#0c0ce0"/>
<rect x="129.6" y="496.45" width="7.4" height="7.4" fill="#0c0ce0"/>
<rect x="131.6" y="496.05" width="7.4" height="7.4" fill="#0c0ce0"/>
<rect x="133.6" y="495.63" width="7.4" height="7.4" fill="#0c0ce0"/>
<rect x="135.6" y="495.19" width="7.4" height="7.4" fill="#0c0ce0"/>
<rect x="137.6" y="494.71" width="7.4" height="7.4" fill="#0c0ce0"/>
<rect x="139.6" y="494.2" width="7.4" height="7.4" fill="#0c0ce0"/>
<rect x="141.6" y="493.66" width="7.4" height="7.4" fill="#0c0ce0"/>
<rect x="143.6" y="493.07" width="7.4" height="7.4" fill="#0c0ce0"/>
<rect x="147.3" y="491.87" width="7.4" height="7.4" fill="#0c0ce0"/>
<rect x="150.8" y="490.55" width="7.4" height="7.4" fill="#0c0ce0"/>
<rect x="154.3" y="489" width="7.4" height="7.4" fill="#0c0ce0"/>
<rect x="157.8" y="487.16" width="7.4" height="7.4" fill="#0c0ce0"/>
<rect x="161.3" y="484.94" width="7.4" height="7.4" fill="#0c0ce0"/>
<rect x="164.8" y="482.2" width="7.4" height="7.4" fill="#0c0ce0"/>
<rect x="168.2" y="479" width="7.4" height="7.4" fill="#0c0ce0"/>
<rect x="174.4" y="469" width="7.4" height="7.4" fill="#0c0ce0"/>
<rect x="178.1" y="461.6" width="7.4" height="7.4" fill="#0c0ce0"/>
<rect x="183" y="448.6" width="7.4" height="7.4" fill="#0c0ce0"/>
<rect x="185.1" y="437.8" width="7.4" height="7.4" fill="#0c0ce0"/>
<rect x="185.1" y="434.8" width="7.4" height="7.4" fill="#0c0ce0"/>
<rect x="187.4" y="420" width="7.4" height="7.4" fill="#0c0ce0"/>
<rect x="187.6" y="414.7" width="7.4" height="7.4" fill="#0c0ce0"/>
<rect x="189.9" y="393.6" width="7.4" height="7.4" fill="#0c0ce0"/>
<rect x="190.6" y="388.3" width="7.4" height="7.4" fill="#0c0ce0"/>
<rect x="193.2" y="373.7" width="7.4" height="7.4" fill="#0c0ce0"/>
<rect x="195.9" y="363.4" width="7.4" height="7.4" fill="#0c0ce0"/>
<rect x="207.2" y="342.3" width="7.4" height="7.4" fill="#0c0ce0"/>
<rect x="216.8" y="332.58" width="7.4" height="7.4" fill="#0c0ce0"/>
<rect x="226.6" y="326.78" width="7.4" height="7.4" fill="#0c0ce0"/>
<rect x="237.1" y="322.81" width="7.4" height="7.4" fill="#0c0ce0"/>
<rect x="247.6" y="320.11" width="7.4" height="7.4" fill="#0c0ce0"/>
<rect x="258.3" y="318.12" width="7.4" height="7.4" fill="#0c0ce0"/>
<rect x="268.6" y="316.66" width="7.4" height="7.4" fill="#0c0ce0"/>
<rect x="278.3" y="315.56" width="7.4" height="7.4" fill="#0c0ce0"/>
<rect x="287.9" y="314.66" width="7.4" height="7.4" fill="#0c0ce0"/>
<rect x="297.8" y="313.88" width="7.4" height="7.4" fill="#0c0ce0"/>
<rect x="308.5" y="313.16" width="7.4" height="7.4" fill="#0c0ce0"/>
<rect x="319.5" y="312.53" width="7.4" height="7.4" fill="#0c0ce0"/>
<rect x="329.2" y="312.03" width="7.4" height="7.4" fill="#0c0ce0"/>
</g>
<text x="38.7" y="303.3" text-anchor="end" font-size="11" letter-spacing="1" stroke="#000" stroke-width="0.2"> .2</text>
<text x="38.7" y="340.47" text-anchor="end" font-size="11" letter-spacing="1" stroke="#000" stroke-width="0.2">0.8</text>
<text x="38.7" y="377.63" text-anchor="end" font-size="11" letter-spacing="1" stroke="#000" stroke-width="0.2">0.4</text>
<text x="38.7" y="414.8" text-anchor="end" font-size="11" letter-spacing="1" stroke="#000" stroke-width="0.2">0</text>
<text x="38.7" y="451.97" text-anchor="end" font-size="11" letter-spacing="1" stroke="#000" stroke-width="0.2">-0.4</text>
<text x="38.7" y="489.13" text-anchor="end" font-size="11" letter-spacing="1" stroke="#000" stroke-width="0.2">-0.8</text>
<text x="38.7" y="526.3" text-anchor="end" font-size="11" letter-spacing="1" stroke="#000" stroke-width="0.2">- .2</text>
<text x="45.2" y="538.8" text-anchor="middle" font-size="11" letter-spacing="1" stroke="#000" stroke-width="0.3">-2  0<tspan font-size="7.5" dy="-6.8" dx="0.8">4</tspan></text>
<text x="81.74" y="538.8" text-anchor="middle" font-size="11" letter-spacing="1" stroke="#000" stroke-width="0.3">- .5  0<tspan font-size="7.5" dy="-6.8" dx="0.8">4</tspan></text>
<text x="118.28" y="538.8" text-anchor="middle" font-size="11" letter-spacing="1" stroke="#000" stroke-width="0.3">-   0<tspan font-size="7.5" dy="-6.8" dx="0.8">4</tspan></text>
<text x="154.81" y="538.8" text-anchor="middle" font-size="11" letter-spacing="1" stroke="#000" stroke-width="0.3">-5  0<tspan font-size="7.5" dy="-6.8" dx="0.8">3</tspan></text>
<text x="191.35" y="538.8" text-anchor="middle" font-size="11" letter-spacing="1" stroke="#000" stroke-width="0.3">0  0<tspan font-size="7.5" dy="-6.8" dx="0.8">0</tspan></text>
<text x="227.89" y="538.8" text-anchor="middle" font-size="11" letter-spacing="1" stroke="#000" stroke-width="0.3">5  0<tspan font-size="7.5" dy="-6.8" dx="0.8">3</tspan></text>
<text x="264.43" y="538.8" text-anchor="middle" font-size="11" letter-spacing="1" stroke="#000" stroke-width="0.3">   0<tspan font-size="7.5" dy="-6.8" dx="0.8">4</tspan></text>
<text x="300.96" y="538.8" text-anchor="middle" font-size="11" letter-spacing="1" stroke="#000" stroke-width="0.3"> .5  0<tspan font-size="7.5" dy="-6.8" dx="0.8">4</tspan></text>
<text x="337.5" y="538.8" text-anchor="middle" font-size="11" letter-spacing="1" stroke="#000" stroke-width="0.3">2  0<tspan font-size="7.5" dy="-6.8" dx="0.8">4</tspan></text>
<text x="129.21" y="559.5" font-size="10.3" font-weight="bold" letter-spacing="1.52">Magnetic Field (Oe)</text>
<text transform="translate(10.2,475.66) rotate(-90)" font-size="11.4" font-weight="bold" letter-spacing="0.09">Magnetization (emu/g)</text>
<text x="65.8" y="331.3" style="font-family:'Liberation Serif',serif" font-size="17.5" font-weight="bold">(b)</text>
<path d="M202.2 479.4H241" stroke="#e40c12" stroke-width="1.4"/>
<circle cx="221.9" cy="479.4" r="3.8" fill="#e40c12"/>
<path d="M202.2 499.6H241" stroke="#0c0ce0" stroke-width="1.4"/>
<rect x="217.8" y="495.9" width="7.4" height="7.4" fill="#0c0ce0"/>
<text x="245.39" y="483.2" font-size="10.6" font-weight="bold" fill="#dc1e26" letter-spacing="1.3">Fe</text>
<text x="260.73" y="488.8" font-size="7.6" font-weight="bold" fill="#dc1e26" stroke="#dc1e26" stroke-width="0.3">3</text>
<text x="265.07" y="483.2" font-size="10.6" font-weight="bold" fill="#dc1e26">O</text>
<text x="275.48" y="488.8" font-size="7.6" font-weight="bold" fill="#dc1e26" stroke="#dc1e26" stroke-width="0.3">4</text>
<text x="280.7" y="483.2" font-size="10.6" font-weight="bold" fill="#dc1e26" letter-spacing="1.25">/Starch</text>
<text x="245.39" y="503.8" font-size="10.6" font-weight="bold" fill="#2020b8" letter-spacing="1.3">Fe</text>
<text x="260.73" y="509.4" font-size="7.6" font-weight="bold" fill="#2020b8" stroke="#2020b8" stroke-width="0.3">3</text>
<text x="265.07" y="503.8" font-size="10.6" font-weight="bold" fill="#2020b8">O</text>
<text x="275.48" y="509.4" font-size="7.6" font-weight="bold" fill="#2020b8" stroke="#2020b8" stroke-width="0.3">4</text>
<text x="280.7" y="503.8" font-size="10.6" font-weight="bold" fill="#2020b8" letter-spacing="1.47">/chitosan</text>
<path transform="translate(31.60,244.80) scale(0.00566,-0.00566)" d="M515 0L515 1237L197 1010L197 1180L530 1409L696 1409L696 0Z" fill="rgb(0, 0, 0)" stroke="rgb(0, 0, 0)" stroke-width="52.97"/>
<path transform="translate(43.68,244.80) scale(0.00566,-0.00566)" d="M515 0L515 1237L197 1010L197 1180L530 1409L696 1409L696 0Z" fill="rgb(0, 0, 0)" stroke="rgb(0, 0, 0)" stroke-width="52.97"/>
<path transform="translate(326.08,244.80) scale(0.00566,-0.00566)" d="M515 0L515 1237L197 1010L197 1180L530 1409L696 1409L696 0Z" fill="rgb(0, 0, 0)" stroke="rgb(0, 0, 0)" stroke-width="52.97"/>
<path transform="translate(338.15,244.80) scale(0.00566,-0.00566)" d="M515 0L515 1237L197 1010L197 1180L530 1409L696 1409L696 0Z" fill="rgb(0, 0, 0)" stroke="rgb(0, 0, 0)" stroke-width="52.97"/>
<path transform="translate(316.00,140.80) scale(0.00698,-0.00698)" d="M478 0L478 1170L140 959L140 1180L493 1409L759 1409L759 0Z" fill="rgb(224, 125, 156)"/>
<path transform="translate(20.40,303.30) scale(0.00537,-0.00537)" d="M515 0L515 1237L197 1010L197 1180L530 1409L696 1409L696 0Z" fill="rgb(0, 0, 0)" stroke="rgb(0, 0, 0)" stroke-width="37.24"/>
<path transform="translate(20.39,526.30) scale(0.00537,-0.00537)" d="M515 0L515 1237L197 1010L197 1180L530 1409L696 1409L696 0Z" fill="rgb(0, 0, 0)" stroke="rgb(0, 0, 0)" stroke-width="37.24"/>
<path transform="translate(43.00,538.80) scale(0.00537,-0.00537)" d="M515 0L515 1237L197 1010L197 1180L530 1409L696 1409L696 0Z" fill="rgb(0, 0, 0)" stroke="rgb(0, 0, 0)" stroke-width="55.85"/>
<path transform="translate(62.79,538.80) scale(0.00537,-0.00537)" d="M515 0L515 1237L197 1010L197 1180L530 1409L696 1409L696 0Z" fill="rgb(0, 0, 0)" stroke="rgb(0, 0, 0)" stroke-width="55.85"/>
<path transform="translate(85.13,538.80) scale(0.00537,-0.00537)" d="M515 0L515 1237L197 1010L197 1180L530 1409L696 1409L696 0Z" fill="rgb(0, 0, 0)" stroke="rgb(0, 0, 0)" stroke-width="55.85"/>
<path transform="translate(104.91,538.80) scale(0.00537,-0.00537)" d="M515 0L515 1237L197 1010L197 1180L530 1409L696 1409L696 0Z" fill="rgb(0, 0, 0)" stroke="rgb(0, 0, 0)" stroke-width="55.85"/>
<path transform="translate(116.08,538.80) scale(0.00537,-0.00537)" d="M515 0L515 1237L197 1010L197 1180L530 1409L696 1409L696 0Z" fill="rgb(0, 0, 0)" stroke="rgb(0, 0, 0)" stroke-width="55.85"/>
<path transform="translate(152.61,538.80) scale(0.00537,-0.00537)" d="M515 0L515 1237L197 1010L197 1180L530 1409L696 1409L696 0Z" fill="rgb(0, 0, 0)" stroke="rgb(0, 0, 0)" stroke-width="55.85"/>
<path transform="translate(186.83,538.80) scale(0.00537,-0.00537)" d="M515 0L515 1237L197 1010L197 1180L530 1409L696 1409L696 0Z" fill="rgb(0, 0, 0)" stroke="rgb(0, 0, 0)" stroke-width="55.85"/>
<path transform="translate(223.36,538.80) scale(0.00537,-0.00537)" d="M515 0L515 1237L197 1010L197 1180L530 1409L696 1409L696 0Z" fill="rgb(0, 0, 0)" stroke="rgb(0, 0, 0)" stroke-width="55.85"/>
<path transform="translate(248.73,538.80) scale(0.00537,-0.00537)" d="M515 0L515 1237L197 1010L197 1180L530 1409L696 1409L696 0Z" fill="rgb(0, 0, 0)" stroke="rgb(0, 0, 0)" stroke-width="55.85"/>
<path transform="translate(259.90,538.80) scale(0.00537,-0.00537)" d="M515 0L515 1237L197 1010L197 1180L530 1409L696 1409L696 0Z" fill="rgb(0, 0, 0)" stroke="rgb(0, 0, 0)" stroke-width="55.85"/>
<path transform="translate(279.68,538.80) scale(0.00537,-0.00537)" d="M515 0L515 1237L197 1010L197 1180L530 1409L696 1409L696 0Z" fill="rgb(0, 0, 0)" stroke="rgb(0, 0, 0)" stroke-width="55.85"/>
<path transform="translate(302.02,538.80) scale(0.00537,-0.00537)" d="M515 0L515 1237L197 1010L197 1180L530 1409L696 1409L696 0Z" fill="rgb(0, 0, 0)" stroke="rgb(0, 0, 0)" stroke-width="55.85"/>
<path transform="translate(332.98,538.80) scale(0.00537,-0.00537)" d="M515 0L515 1237L197 1010L197 1180L530 1409L696 1409L696 0Z" fill="rgb(0, 0, 0)" stroke="rgb(0, 0, 0)" stroke-width="55.85"/>
</svg></body></html>
